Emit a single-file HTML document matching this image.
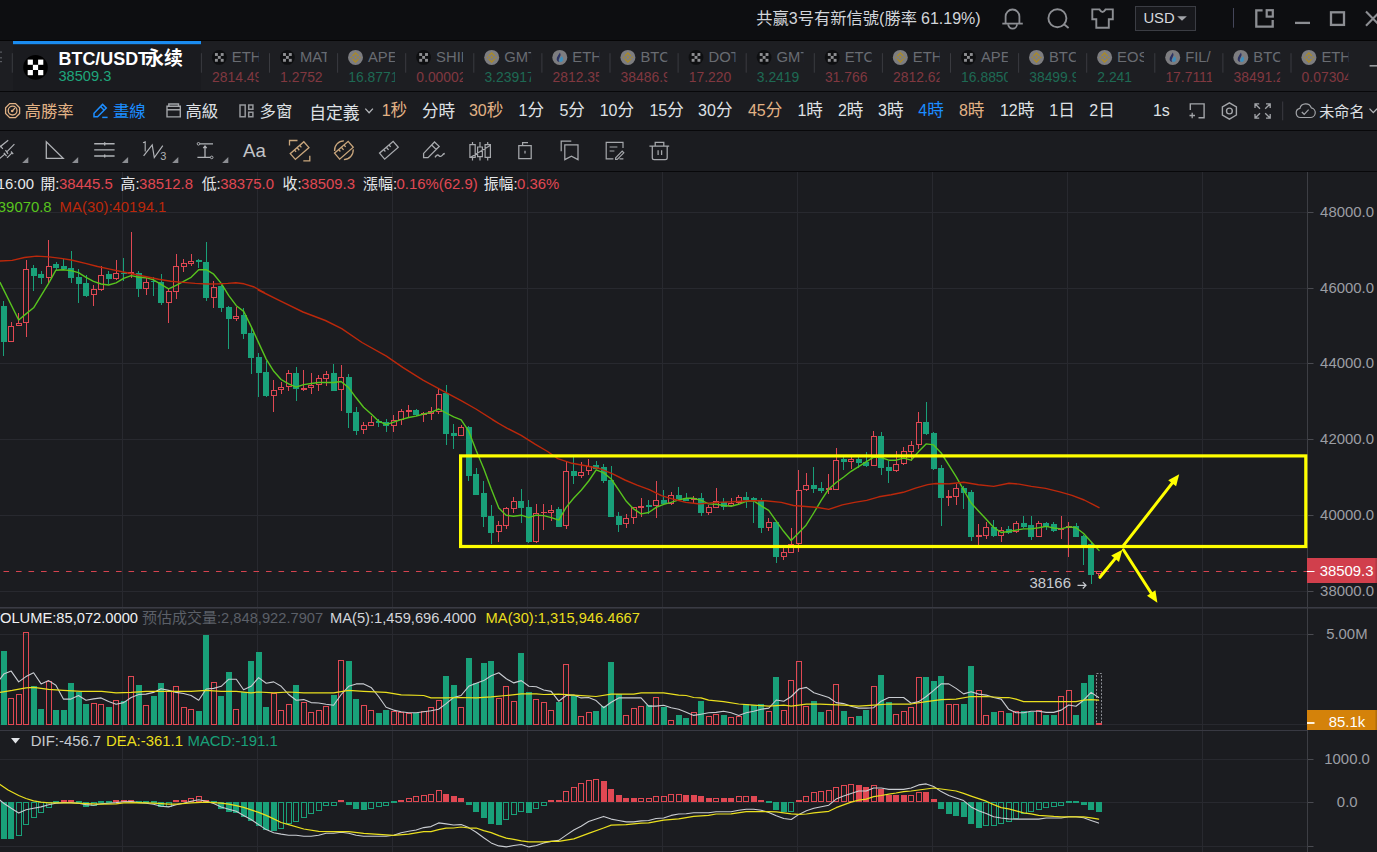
<!DOCTYPE html><html><head><meta charset="utf-8"><title>chart</title><style>html,body{margin:0;padding:0;background:#1b1c20;overflow:hidden}body{width:1377px;height:852px;font-family:'Liberation Sans', 'Noto Sans CJK SC', sans-serif}</style></head><body><svg width="1377" height="852" viewBox="0 0 1377 852" font-family="'Liberation Sans', 'Noto Sans CJK SC', sans-serif" style="display:block"><rect x="0.00" y="0.00" width="1377.00" height="852.00" fill="#1b1c20"/>
<rect x="0.00" y="0.00" width="1377.00" height="40.00" fill="#0d0e11"/>
<rect x="0.00" y="40.00" width="1377.00" height="51.00" fill="#1d1e22"/>
<rect x="13.00" y="41.00" width="188.00" height="50.00" fill="#1a1b1f"/>
<rect x="0.00" y="40.00" width="1377.00" height="1.00" fill="#050506"/>
<rect x="0.00" y="91.00" width="1377.00" height="1.00" fill="#08080a"/>
<rect x="0.00" y="130.00" width="1377.00" height="1.00" fill="#08080a"/>
<rect x="0.00" y="171.00" width="1377.00" height="1.00" fill="#08080a"/>
<text y="23.9" font-size="16" fill="#d2d5da"><tspan x="756.3" font-size="16.25">共赢</tspan><tspan x="788.8">3</tspan><tspan x="797.79" font-size="16.25">号有新信號</tspan><tspan x="879.04">(</tspan><tspan x="884.52" font-size="16.25">勝率</tspan><tspan x="920.99">61.19%)</tspan></text>
<path d="M1005.6 23.6V16.4a6.9 6.9 0 0 1 13.8 0V23.6" fill="none" stroke="#8c8e93" stroke-width="1.8" stroke-linejoin="miter"/>
<path d="M1002.3 23.6H1022.8" fill="none" stroke="#8c8e93" stroke-width="1.8" stroke-linejoin="miter"/>
<path d="M1008.2 24.2a4.4 4.4 0 0 0 8.8 0" fill="none" stroke="#8c8e93" stroke-width="1.8" stroke-linejoin="miter"/>
<circle cx="1057.4" cy="18.2" r="9" fill="none" stroke="#8c8e93" stroke-width="1.9"/>
<path d="M1064 24.2L1068.6 28" fill="none" stroke="#8c8e93" stroke-width="1.9" stroke-linejoin="miter"/>
<path d="M1092.3 9.4H1099.5Q1102.5 14.5 1105.5 9.4H1112.8V19.3H1108.8V27.7H1096.3V19.3H1092.3Z" fill="none" stroke="#8c8e93" stroke-width="1.9" stroke-linejoin="miter"/>
<rect x="1135.5" y="6.5" width="60" height="24" fill="#17181c" stroke="#3b3d44" stroke-width="1"/>
<text x="1143.4" y="22.9" font-size="14.8" fill="#d8dadf">USD</text>
<polygon points="1177.2,16.2 1186.9,16.2 1182,20.8" fill="#a2a4a9"/>
<line x1="1233.50" y1="8.00" x2="1233.50" y2="27.70" stroke="#44465a" stroke-width="1"/>
<path d="M1262.6 10.3H1256.3V26.7H1272.7V20" fill="none" stroke="#8c8e93" stroke-width="2.3" stroke-linejoin="miter"/>
<rect x="1266.7" y="10.2" width="6.1" height="6.4" fill="none" stroke="#8c8e93" stroke-width="2.2"/>
<line x1="1295.00" y1="22.90" x2="1310.00" y2="22.90" stroke="#8c8e93" stroke-width="2.3"/>
<rect x="1331" y="12.3" width="13" height="12.6" fill="none" stroke="#8c8e93" stroke-width="2.3"/>
<path d="M1366 11.5L1380 25.7M1366 25.7L1380 11.5" fill="none" stroke="#8c8e93" stroke-width="2.1" stroke-linejoin="miter"/>
<rect x="13.00" y="41.00" width="188.00" height="3.20" fill="#1a8cf0"/>
<line x1="12.30" y1="53.20" x2="12.30" y2="72.70" stroke="#3a3b40" stroke-width="1"/>
<rect x="0.00" y="51.50" width="2.00" height="1.20" fill="#5a5c62"/>
<rect x="0.00" y="57.20" width="2.00" height="1.20" fill="#5a5c62"/>
<rect x="0.00" y="61.00" width="2.00" height="1.20" fill="#5a5c62"/>
<circle cx="35.5" cy="67.4" r="12.3" fill="#000000"/>
<rect x="27.70" y="59.60" width="5.20" height="5.20" fill="#ffffff"/>
<rect x="38.10" y="59.60" width="5.20" height="5.20" fill="#ffffff"/>
<rect x="32.90" y="64.80" width="5.20" height="5.20" fill="#ffffff"/>
<rect x="27.70" y="70.00" width="5.20" height="5.20" fill="#ffffff"/>
<rect x="38.10" y="70.00" width="5.20" height="5.20" fill="#ffffff"/>
<text x="58.6" y="64.9" font-size="17.9" font-weight="bold" fill="#ffffff">BTC/USDT<tspan x="145.01" font-size="18.9">永续</tspan></text>
<text x="58.5" y="80.8" font-size="14.6" fill="#1fa67c">38509.3</text>
<defs><clipPath id="tc0"><rect x="201.4" y="44" width="57.3" height="47"/></clipPath><clipPath id="tc1"><rect x="269.5" y="44" width="57.3" height="47"/></clipPath><clipPath id="tc2"><rect x="337.6" y="44" width="57.3" height="47"/></clipPath><clipPath id="tc3"><rect x="405.7" y="44" width="57.3" height="47"/></clipPath><clipPath id="tc4"><rect x="473.8" y="44" width="57.3" height="47"/></clipPath><clipPath id="tc5"><rect x="541.9" y="44" width="57.3" height="47"/></clipPath><clipPath id="tc6"><rect x="610.0" y="44" width="57.3" height="47"/></clipPath><clipPath id="tc7"><rect x="678.1" y="44" width="57.3" height="47"/></clipPath><clipPath id="tc8"><rect x="746.2" y="44" width="57.3" height="47"/></clipPath><clipPath id="tc9"><rect x="814.3" y="44" width="57.3" height="47"/></clipPath><clipPath id="tc10"><rect x="882.4" y="44" width="57.3" height="47"/></clipPath><clipPath id="tc11"><rect x="950.5" y="44" width="57.3" height="47"/></clipPath><clipPath id="tc12"><rect x="1018.6" y="44" width="57.3" height="47"/></clipPath><clipPath id="tc13"><rect x="1086.7" y="44" width="57.3" height="47"/></clipPath><clipPath id="tc14"><rect x="1154.8" y="44" width="57.3" height="47"/></clipPath><clipPath id="tc15"><rect x="1222.9" y="44" width="57.3" height="47"/></clipPath><clipPath id="tc16"><rect x="1291.0" y="44" width="57.3" height="47"/></clipPath></defs>
<line x1="201.40" y1="53.20" x2="201.40" y2="72.70" stroke="#3a3b40" stroke-width="1"/>
<circle cx="219.3" cy="57.4" r="7.4" fill="#0e0f11"/>
<rect x="214.95" y="53.05" width="2.90" height="2.90" fill="#8e8f92"/>
<rect x="220.75" y="53.05" width="2.90" height="2.90" fill="#8e8f92"/>
<rect x="217.85" y="55.95" width="2.90" height="2.90" fill="#8e8f92"/>
<rect x="214.95" y="58.85" width="2.90" height="2.90" fill="#8e8f92"/>
<rect x="220.75" y="58.85" width="2.90" height="2.90" fill="#8e8f92"/>
<g clip-path="url(#tc0)">
<text x="231.8" y="62.1" font-size="14.8" fill="#696c72">ETH</text>
<text x="212.0" y="81.9" font-size="13.9" fill="#813840">2814.49</text>
</g>
<line x1="269.50" y1="53.20" x2="269.50" y2="72.70" stroke="#3a3b40" stroke-width="1"/>
<circle cx="287.4" cy="57.4" r="7.4" fill="#0e0f11"/>
<rect x="283.05" y="53.05" width="2.90" height="2.90" fill="#8e8f92"/>
<rect x="288.85" y="53.05" width="2.90" height="2.90" fill="#8e8f92"/>
<rect x="285.95" y="55.95" width="2.90" height="2.90" fill="#8e8f92"/>
<rect x="283.05" y="58.85" width="2.90" height="2.90" fill="#8e8f92"/>
<rect x="288.85" y="58.85" width="2.90" height="2.90" fill="#8e8f92"/>
<g clip-path="url(#tc1)">
<text x="299.9" y="62.1" font-size="14.8" fill="#696c72">MATI</text>
<text x="280.1" y="81.9" font-size="13.9" fill="#813840">1.2752</text>
</g>
<line x1="337.60" y1="53.20" x2="337.60" y2="72.70" stroke="#3a3b40" stroke-width="1"/>
<circle cx="355.5" cy="57.4" r="7.5" fill="#7d7d80"/>
<path d="M352.5 55.9l3 -3l3 3M352.5 58.9l3 3l3 -3" fill="none" stroke="#a98a2a" stroke-width="1.4"/>
<path d="M354.2 57.4l1.3 -1.3l1.3 1.3l-1.3 1.3zM350.2 57.4l1 -1l1 1l-1 1zM358.8 57.4l1 -1l1 1l-1 1z" fill="#a98a2a"/>
<g clip-path="url(#tc2)">
<text x="368.0" y="62.1" font-size="14.8" fill="#696c72">APE</text>
<text x="348.2" y="81.9" font-size="13.9" fill="#1e6a54">16.8771</text>
</g>
<line x1="405.70" y1="53.20" x2="405.70" y2="72.70" stroke="#3a3b40" stroke-width="1"/>
<circle cx="423.6" cy="57.4" r="7.4" fill="#0e0f11"/>
<rect x="419.25" y="53.05" width="2.90" height="2.90" fill="#8e8f92"/>
<rect x="425.05" y="53.05" width="2.90" height="2.90" fill="#8e8f92"/>
<rect x="422.15" y="55.95" width="2.90" height="2.90" fill="#8e8f92"/>
<rect x="419.25" y="58.85" width="2.90" height="2.90" fill="#8e8f92"/>
<rect x="425.05" y="58.85" width="2.90" height="2.90" fill="#8e8f92"/>
<g clip-path="url(#tc3)">
<text x="436.1" y="62.1" font-size="14.8" fill="#696c72">SHIB</text>
<text x="416.3" y="81.9" font-size="13.9" fill="#813840">0.00002</text>
</g>
<line x1="473.80" y1="53.20" x2="473.80" y2="72.70" stroke="#3a3b40" stroke-width="1"/>
<circle cx="491.7" cy="57.4" r="7.5" fill="#7d7d80"/>
<path d="M488.7 55.9l3 -3l3 3M488.7 58.9l3 3l3 -3" fill="none" stroke="#a98a2a" stroke-width="1.4"/>
<path d="M490.4 57.4l1.3 -1.3l1.3 1.3l-1.3 1.3zM486.4 57.4l1 -1l1 1l-1 1zM495.0 57.4l1 -1l1 1l-1 1z" fill="#a98a2a"/>
<g clip-path="url(#tc4)">
<text x="504.2" y="62.1" font-size="14.8" fill="#696c72">GMT</text>
<text x="484.4" y="81.9" font-size="13.9" fill="#1e6a54">3.23917</text>
</g>
<line x1="541.90" y1="53.20" x2="541.90" y2="72.70" stroke="#3a3b40" stroke-width="1"/>
<circle cx="559.8" cy="57.4" r="7.5" fill="#7d7d80"/>
<path d="M560.0 52.4q1.6 2.6 -0.4 5.2q-1.6 2.2 -0.2 4.4q-3.6 -1 -2.4 -4.6q1.2 -2.4 3 -5z" fill="#2b3263"/>
<path d="M561.8 56.2q2.4 2.6 0.6 5q-1.4 1.4 -3 0.4q-0.6 -2.4 2.4 -5.4z" fill="#3d8fbf"/>
<g clip-path="url(#tc5)">
<text x="572.3" y="62.1" font-size="14.8" fill="#696c72">ETH</text>
<text x="552.5" y="81.9" font-size="13.9" fill="#813840">2812.35</text>
</g>
<line x1="610.00" y1="53.20" x2="610.00" y2="72.70" stroke="#3a3b40" stroke-width="1"/>
<circle cx="627.9" cy="57.4" r="7.5" fill="#7d7d80"/>
<path d="M624.9 55.9l3 -3l3 3M624.9 58.9l3 3l3 -3" fill="none" stroke="#a98a2a" stroke-width="1.4"/>
<path d="M626.6 57.4l1.3 -1.3l1.3 1.3l-1.3 1.3zM622.6 57.4l1 -1l1 1l-1 1zM631.2 57.4l1 -1l1 1l-1 1z" fill="#a98a2a"/>
<g clip-path="url(#tc6)">
<text x="640.4" y="62.1" font-size="14.8" fill="#696c72">BTC</text>
<text x="620.6" y="81.9" font-size="13.9" fill="#813840">38486.9</text>
</g>
<line x1="678.10" y1="53.20" x2="678.10" y2="72.70" stroke="#3a3b40" stroke-width="1"/>
<circle cx="696.0" cy="57.4" r="7.4" fill="#0e0f11"/>
<rect x="691.65" y="53.05" width="2.90" height="2.90" fill="#8e8f92"/>
<rect x="697.45" y="53.05" width="2.90" height="2.90" fill="#8e8f92"/>
<rect x="694.55" y="55.95" width="2.90" height="2.90" fill="#8e8f92"/>
<rect x="691.65" y="58.85" width="2.90" height="2.90" fill="#8e8f92"/>
<rect x="697.45" y="58.85" width="2.90" height="2.90" fill="#8e8f92"/>
<g clip-path="url(#tc7)">
<text x="708.5" y="62.1" font-size="14.8" fill="#696c72">DOT</text>
<text x="688.7" y="81.9" font-size="13.9" fill="#813840">17.220</text>
</g>
<line x1="746.20" y1="53.20" x2="746.20" y2="72.70" stroke="#3a3b40" stroke-width="1"/>
<circle cx="764.1" cy="57.4" r="7.4" fill="#0e0f11"/>
<rect x="759.75" y="53.05" width="2.90" height="2.90" fill="#8e8f92"/>
<rect x="765.55" y="53.05" width="2.90" height="2.90" fill="#8e8f92"/>
<rect x="762.65" y="55.95" width="2.90" height="2.90" fill="#8e8f92"/>
<rect x="759.75" y="58.85" width="2.90" height="2.90" fill="#8e8f92"/>
<rect x="765.55" y="58.85" width="2.90" height="2.90" fill="#8e8f92"/>
<g clip-path="url(#tc8)">
<text x="776.6" y="62.1" font-size="14.8" fill="#696c72">GMT</text>
<text x="756.8" y="81.9" font-size="13.9" fill="#1e6a54">3.2419</text>
</g>
<line x1="814.30" y1="53.20" x2="814.30" y2="72.70" stroke="#3a3b40" stroke-width="1"/>
<circle cx="832.2" cy="57.4" r="7.4" fill="#0e0f11"/>
<rect x="827.85" y="53.05" width="2.90" height="2.90" fill="#8e8f92"/>
<rect x="833.65" y="53.05" width="2.90" height="2.90" fill="#8e8f92"/>
<rect x="830.75" y="55.95" width="2.90" height="2.90" fill="#8e8f92"/>
<rect x="827.85" y="58.85" width="2.90" height="2.90" fill="#8e8f92"/>
<rect x="833.65" y="58.85" width="2.90" height="2.90" fill="#8e8f92"/>
<g clip-path="url(#tc9)">
<text x="844.7" y="62.1" font-size="14.8" fill="#696c72">ETC</text>
<text x="824.9" y="81.9" font-size="13.9" fill="#813840">31.766</text>
</g>
<line x1="882.40" y1="53.20" x2="882.40" y2="72.70" stroke="#3a3b40" stroke-width="1"/>
<circle cx="900.3" cy="57.4" r="7.5" fill="#7d7d80"/>
<path d="M897.3 55.9l3 -3l3 3M897.3 58.9l3 3l3 -3" fill="none" stroke="#a98a2a" stroke-width="1.4"/>
<path d="M899.0 57.4l1.3 -1.3l1.3 1.3l-1.3 1.3zM895.0 57.4l1 -1l1 1l-1 1zM903.6 57.4l1 -1l1 1l-1 1z" fill="#a98a2a"/>
<g clip-path="url(#tc10)">
<text x="912.8" y="62.1" font-size="14.8" fill="#696c72">ETH</text>
<text x="893.0" y="81.9" font-size="13.9" fill="#813840">2812.62</text>
</g>
<line x1="950.50" y1="53.20" x2="950.50" y2="72.70" stroke="#3a3b40" stroke-width="1"/>
<circle cx="968.4" cy="57.4" r="7.4" fill="#0e0f11"/>
<rect x="964.05" y="53.05" width="2.90" height="2.90" fill="#8e8f92"/>
<rect x="969.85" y="53.05" width="2.90" height="2.90" fill="#8e8f92"/>
<rect x="966.95" y="55.95" width="2.90" height="2.90" fill="#8e8f92"/>
<rect x="964.05" y="58.85" width="2.90" height="2.90" fill="#8e8f92"/>
<rect x="969.85" y="58.85" width="2.90" height="2.90" fill="#8e8f92"/>
<g clip-path="url(#tc11)">
<text x="980.9" y="62.1" font-size="14.8" fill="#696c72">APE</text>
<text x="961.1" y="81.9" font-size="13.9" fill="#1e6a54">16.8850</text>
</g>
<line x1="1018.60" y1="53.20" x2="1018.60" y2="72.70" stroke="#3a3b40" stroke-width="1"/>
<circle cx="1036.5" cy="57.4" r="7.5" fill="#7d7d80"/>
<path d="M1033.5 55.9l3 -3l3 3M1033.5 58.9l3 3l3 -3" fill="none" stroke="#a98a2a" stroke-width="1.4"/>
<path d="M1035.2 57.4l1.3 -1.3l1.3 1.3l-1.3 1.3zM1031.2 57.4l1 -1l1 1l-1 1zM1039.8 57.4l1 -1l1 1l-1 1z" fill="#a98a2a"/>
<g clip-path="url(#tc12)">
<text x="1049.0" y="62.1" font-size="14.8" fill="#696c72">BTC</text>
<text x="1029.2" y="81.9" font-size="13.9" fill="#1e6a54">38499.9</text>
</g>
<line x1="1086.70" y1="53.20" x2="1086.70" y2="72.70" stroke="#3a3b40" stroke-width="1"/>
<circle cx="1104.6" cy="57.4" r="7.5" fill="#7d7d80"/>
<path d="M1101.6 55.9l3 -3l3 3M1101.6 58.9l3 3l3 -3" fill="none" stroke="#a98a2a" stroke-width="1.4"/>
<path d="M1103.3 57.4l1.3 -1.3l1.3 1.3l-1.3 1.3zM1099.3 57.4l1 -1l1 1l-1 1zM1107.9 57.4l1 -1l1 1l-1 1z" fill="#a98a2a"/>
<g clip-path="url(#tc13)">
<text x="1117.1" y="62.1" font-size="14.8" fill="#696c72">EOS</text>
<text x="1097.3" y="81.9" font-size="13.9" fill="#1e6a54">2.241</text>
</g>
<line x1="1154.80" y1="53.20" x2="1154.80" y2="72.70" stroke="#3a3b40" stroke-width="1"/>
<circle cx="1172.7" cy="57.4" r="7.5" fill="#7d7d80"/>
<path d="M1172.9 52.4q1.6 2.6 -0.4 5.2q-1.6 2.2 -0.2 4.4q-3.6 -1 -2.4 -4.6q1.2 -2.4 3 -5z" fill="#2b3263"/>
<path d="M1174.7 56.2q2.4 2.6 0.6 5q-1.4 1.4 -3 0.4q-0.6 -2.4 2.4 -5.4z" fill="#3d8fbf"/>
<g clip-path="url(#tc14)">
<text x="1185.2" y="62.1" font-size="14.8" fill="#696c72">FIL/</text>
<text x="1165.4" y="81.9" font-size="13.9" fill="#813840">17.7111</text>
</g>
<line x1="1222.90" y1="53.20" x2="1222.90" y2="72.70" stroke="#3a3b40" stroke-width="1"/>
<circle cx="1240.8" cy="57.4" r="7.5" fill="#7d7d80"/>
<path d="M1241.0 52.4q1.6 2.6 -0.4 5.2q-1.6 2.2 -0.2 4.4q-3.6 -1 -2.4 -4.6q1.2 -2.4 3 -5z" fill="#2b3263"/>
<path d="M1242.8 56.2q2.4 2.6 0.6 5q-1.4 1.4 -3 0.4q-0.6 -2.4 2.4 -5.4z" fill="#3d8fbf"/>
<g clip-path="url(#tc15)">
<text x="1253.3" y="62.1" font-size="14.8" fill="#696c72">BTC</text>
<text x="1233.5" y="81.9" font-size="13.9" fill="#813840">38491.2</text>
</g>
<line x1="1291.00" y1="53.20" x2="1291.00" y2="72.70" stroke="#3a3b40" stroke-width="1"/>
<circle cx="1308.9" cy="57.4" r="7.5" fill="#7d7d80"/>
<path d="M1305.9 55.9l3 -3l3 3M1305.9 58.9l3 3l3 -3" fill="none" stroke="#a98a2a" stroke-width="1.4"/>
<path d="M1307.6 57.4l1.3 -1.3l1.3 1.3l-1.3 1.3zM1303.6 57.4l1 -1l1 1l-1 1zM1312.2 57.4l1 -1l1 1l-1 1z" fill="#a98a2a"/>
<g clip-path="url(#tc16)">
<text x="1321.4" y="62.1" font-size="14.8" fill="#696c72">ETH</text>
<text x="1301.6" y="81.9" font-size="13.9" fill="#813840">0.07304</text>
</g>
<path d="M1369.6 65.8H1384" fill="none" stroke="#97999d" stroke-width="1.6" stroke-linejoin="miter"/>
<polygon points="19.6,113.5 15.5,117.6 9.7,117.6 5.6,113.5 5.6,107.7 9.7,103.6 15.5,103.6 19.6,107.7" fill="none" stroke="#e2b285" stroke-width="1.3"/>
<circle cx="12.6" cy="110.6" r="4.4" fill="none" stroke="#e2b285" stroke-width="1.3"/>
<circle cx="12.2" cy="111" r="1.3" fill="#e2b285"/>
<line x1="12.40" y1="110.80" x2="15.00" y2="108.00" stroke="#e2b285" stroke-width="1.2"/>
<text x="24.5" y="116.8" font-size="16.4" fill="#e2b285">高勝率</text>
<path d="M94 116.8V113.2L102.6 104.4L106.3 108.1L97.6 116.8ZM100.6 106.5L104.2 110.2" fill="none" stroke="#1c8dff" stroke-width="1.5" stroke-linejoin="miter"/>
<line x1="102.20" y1="117.40" x2="107.60" y2="117.40" stroke="#1c8dff" stroke-width="1.5"/>
<text x="112.9" y="116.8" font-size="16.4" fill="#1c8dff">畫線</text>
<path d="M167 106.3H180.3V116.9H167ZM167 109.7H180.3M168.8 106.3V104H178.5V106.3" fill="none" stroke="#a3a5a9" stroke-width="1.4" stroke-linejoin="miter"/>
<text x="185.4" y="116.8" font-size="16.4" fill="#dfe1e5">高級</text>
<path d="M240 104.9H245.2V116.8H240ZM248.7 104.9H252.9V109.3H248.7ZM248.7 112.3H252.9V116.8H248.7Z" fill="none" stroke="#96989c" stroke-width="1.5" stroke-linejoin="miter"/>
<text x="259.6" y="116.8" font-size="16.4" fill="#dfe1e5">多窗</text>
<text x="309.3" y="118.5" font-size="16.8" fill="#dfe1e5">自定義</text>
<path d="M365.3 108.6L369.1 112.8L372.9 108.6" fill="none" stroke="#b4b6ba" stroke-width="1.3" stroke-linejoin="miter"/>
<text x="381.7" y="116.4" font-size="16" fill="#e2b285">1<tspan font-size="16.6">秒</tspan></text>
<text x="422.0" y="116.8" font-size="16.6" fill="#dfe1e5">分時</text>
<text x="468.9" y="116.4" font-size="16" fill="#e2b285">30<tspan font-size="16.6">秒</tspan></text>
<text x="518.5" y="116.4" font-size="16" fill="#dfe1e5">1<tspan font-size="16.6">分</tspan></text>
<text x="559.4" y="116.4" font-size="16" fill="#dfe1e5">5<tspan font-size="16.6">分</tspan></text>
<text x="599.7" y="116.4" font-size="16" fill="#dfe1e5">10<tspan font-size="16.6">分</tspan></text>
<text x="649.4" y="116.4" font-size="16" fill="#dfe1e5">15<tspan font-size="16.6">分</tspan></text>
<text x="698.1" y="116.4" font-size="16" fill="#dfe1e5">30<tspan font-size="16.6">分</tspan></text>
<text x="747.9" y="116.4" font-size="16" fill="#e2b285">45<tspan font-size="16.6">分</tspan></text>
<text x="797.4" y="116.4" font-size="16" fill="#dfe1e5">1<tspan font-size="16.6">時</tspan></text>
<text x="837.9" y="116.4" font-size="16" fill="#dfe1e5">2<tspan font-size="16.6">時</tspan></text>
<text x="878.1" y="116.4" font-size="16" fill="#dfe1e5">3<tspan font-size="16.6">時</tspan></text>
<text x="918.3" y="116.4" font-size="16" fill="#1c8dff">4<tspan font-size="16.6">時</tspan></text>
<text x="958.9" y="116.4" font-size="16" fill="#e2b285">8<tspan font-size="16.6">時</tspan></text>
<text x="999.9" y="116.4" font-size="16" fill="#dfe1e5">12<tspan font-size="16.6">時</tspan></text>
<text x="1049.3" y="116.4" font-size="16" fill="#dfe1e5">1<tspan font-size="16.6">日</tspan></text>
<text x="1089.3" y="116.4" font-size="16" fill="#dfe1e5">2<tspan font-size="16.6">日</tspan></text>
<text x="1152.9" y="116.4" font-size="16" fill="#dfe1e5">1s</text>
<path d="M1190.3 110V103.9H1204.1V117.7H1198.5" fill="none" stroke="#a3a5a9" stroke-width="1.4" stroke-linejoin="miter"/>
<path d="M1189.5 115.5H1195M1192.2 112.8V118.2" fill="none" stroke="#a3a5a9" stroke-width="1.3" stroke-linejoin="miter"/>
<polygon points="1236.4,115.0 1229.4,119.1 1222.4,115.0 1222.4,107.0 1229.4,102.9 1236.4,107.0" fill="none" stroke="#a3a5a9" stroke-width="1.4"/>
<circle cx="1229.4" cy="111" r="2.9" fill="none" stroke="#a3a5a9" stroke-width="1.4"/>
<path d="M1255 108V103.8H1259.2M1266 103.8H1270.2V108M1270.2 114V118.2H1266M1259.2 118.2H1255V114M1255.4 104.2L1260 108.8M1269.8 104.2L1265.2 108.8M1269.8 117.8L1265.2 113.2M1255.4 117.8L1260 113.2" fill="none" stroke="#a3a5a9" stroke-width="1.3" stroke-linejoin="miter"/>
<line x1="1282.70" y1="101.50" x2="1282.70" y2="120.30" stroke="#3a3b40" stroke-width="1"/>
<path d="M1300.5 117.5a4.6 4.6 0 0 1 -0.6 -9.1a6 6 0 0 1 11.4 -0.6a4.9 4.9 0 0 1 -1.2 9.7Z M1301.8 112l2.4 2.3l4.4 -4.6" fill="none" stroke="#a3a5a9" stroke-width="1.2" stroke-linejoin="miter"/>
<text x="1319.2" y="116.5" font-size="15.1" fill="#dfe1e5">未命名</text>
<path d="M1369.5 108.6L1373.3 112.6L1377.1 108.6" fill="none" stroke="#b4b6ba" stroke-width="1.3" stroke-linejoin="miter"/>
<path d="M-2 148.5L8.2 140.3M6.3 152.3L14.4 144.2M-2 160L5.4 153.6M7 157.8L12 152.8M5.5 150.2L8 153.8M0.2 145.5L2.8 148.8M3.8 152.8L6.6 156.2M11 151.5L13.2 154.2" fill="none" stroke="#b0b2b6" stroke-width="1.2" stroke-linejoin="miter"/>
<polygon points="22.1,162.9 28.3,162.9 28.3,156.9" fill="#8b8d92"/>
<path d="M46.3 141.8V158.4H63.2Z" fill="none" stroke="#b0b2b6" stroke-width="1.3" stroke-linejoin="miter"/>
<polygon points="72.0,162.9 78.2,162.9 78.2,156.9" fill="#8b8d92"/>
<path d="M94.2 143.8H114.6M94.2 149.9H114.6M94.2 156H114.6M104.7 142.2V145.4M104.7 154.4V157.6" fill="none" stroke="#b0b2b6" stroke-width="1.4" stroke-linejoin="miter"/>
<polygon points="121.9,162.9 128.1,162.9 128.1,156.9" fill="#8b8d92"/>
<path d="M143.6 155.9L152.2 145L154.3 157.5L162.8 145.7" fill="none" stroke="#b0b2b6" stroke-width="1.2" stroke-linejoin="miter"/>
<path d="M143 142.7L145.2 141.9V151.5" fill="none" stroke="#b0b2b6" stroke-width="1.1" stroke-linejoin="miter"/>
<text x="160.2" y="159.5" font-size="11" fill="#b0b2b6">3</text>
<polygon points="172.1,162.9 178.3,162.9 178.3,156.9" fill="#8b8d92"/>
<path d="M199.5 143.8H213M197.4 157.4H210.6M205 146.5V156.8M203.3 148.2L205 146L206.7 148.2" fill="none" stroke="#b0b2b6" stroke-width="1.3" stroke-linejoin="miter"/>
<circle cx="198.5" cy="143.8" r="1.3" fill="#1b1c20" stroke="#b0b2b6" stroke-width="1"/>
<circle cx="211.7" cy="157.4" r="1.3" fill="#1b1c20" stroke="#b0b2b6" stroke-width="1"/>
<polygon points="222.1,162.9 228.3,162.9 228.3,156.9" fill="#8b8d92"/>
<text x="243.0" y="157.1" font-size="18.6" fill="#c2c4c8">Aa</text>
<g transform="translate(299.6 150.6) rotate(-41)" fill="none" stroke="#c9a67c" stroke-width="1.3"><rect x="-9.0" y="-3.9" width="18.0" height="7.8"/><path d="M-3.5 -3.9v2.6M0 -3.9v3.4M3.5 -3.9v2.6"/></g>
<path d="M289.5 145.5V140.5H297.5M309.8 155.8V160.8H303.3" fill="none" stroke="#c9a67c" stroke-width="1.3" stroke-linejoin="miter"/>
<g transform="translate(343.9 150.2) rotate(-41)" fill="none" stroke="#c9a67c" stroke-width="1.3"><rect x="-9.0" y="-3.9" width="18.0" height="7.8"/><path d="M-3.5 -3.9v2.6M0 -3.9v3.4M3.5 -3.9v2.6"/></g>
<path d="M334.6 151a9.4 9.4 0 0 1 9.3 -10.2M353.2 149.4a9.4 9.4 0 0 1 -9.3 10.2" fill="none" stroke="#c9a67c" stroke-width="1.3" stroke-linejoin="miter"/>
<g transform="translate(388.9 150.2) rotate(-41)" fill="none" stroke="#a8aaae" stroke-width="1.3"><rect x="-9.0" y="-3.9" width="18.0" height="7.8"/><path d="M-3.5 -3.9v2.6M0 -3.9v3.4M3.5 -3.9v2.6"/></g>
<path d="M423.6 157.6V153.4L434.5 142L439.2 146.4L428 157.6ZM431.6 145L436.2 149.4M435 157.3q2.2 -3.6 4 -1.6q1.6 1.8 3.4 -0.6q1 -1.4 2.4 -1.6" fill="none" stroke="#a8aaae" stroke-width="1.3" stroke-linejoin="miter"/>
<path d="M469.9 144.6H475.2V157.4H469.9ZM477.6 147H482.4V156.6H477.6ZM485.1 144.6H490.4V157.4H485.1ZM472.5 141.9V144.6M472.5 157.4V160.6M480 141.9V147M480 156.6V160.6M487.7 141.9V144.6M487.7 157.4V160.6M470.2 157.6L490.6 145.2" fill="none" stroke="#a6a8ac" stroke-width="1.2" stroke-linejoin="miter"/>
<path d="M518.8 145.6H531.2V158.6H518.8ZM522.6 145.6V142.6H528M525 150.8V153.6" fill="none" stroke="#a6a8ac" stroke-width="1.25" stroke-linejoin="miter"/>
<path d="M561.2 151.2V141H571.3M564.8 144.8H578V159.6L571.4 156.2L564.8 159.6Z" fill="none" stroke="#a6a8ac" stroke-width="1.25" stroke-linejoin="miter"/>
<path d="M623 148V142.4H606.2V158.8H613.4M609.6 147H617.4M609.6 151H614.4M615.6 157.8L622.2 151.2L623.8 152.8L617.2 159.4H615.6ZM619.5 158.9H623.4" fill="none" stroke="#a6a8ac" stroke-width="1.2" stroke-linejoin="miter"/>
<path d="M649.4 146H669.2M655.2 146V142.3H663.8V146M652.3 146V157.8Q652.3 159.7 654.2 159.7H665.2Q667.2 159.7 667.2 157.8V146M658.1 150.2V155M661.6 150.2V155" fill="none" stroke="#a6a8ac" stroke-width="1.25" stroke-linejoin="miter"/>
<line x1="122.50" y1="172.00" x2="122.50" y2="852.00" stroke="#28292f" stroke-width="1"/>
<line x1="257.50" y1="172.00" x2="257.50" y2="852.00" stroke="#28292f" stroke-width="1"/>
<line x1="392.50" y1="172.00" x2="392.50" y2="852.00" stroke="#28292f" stroke-width="1"/>
<line x1="527.50" y1="172.00" x2="527.50" y2="852.00" stroke="#28292f" stroke-width="1"/>
<line x1="662.50" y1="172.00" x2="662.50" y2="852.00" stroke="#28292f" stroke-width="1"/>
<line x1="797.50" y1="172.00" x2="797.50" y2="852.00" stroke="#28292f" stroke-width="1"/>
<line x1="932.50" y1="172.00" x2="932.50" y2="852.00" stroke="#28292f" stroke-width="1"/>
<line x1="1067.50" y1="172.00" x2="1067.50" y2="852.00" stroke="#28292f" stroke-width="1"/>
<line x1="1202.50" y1="172.00" x2="1202.50" y2="852.00" stroke="#28292f" stroke-width="1"/>
<line x1="0.00" y1="212.50" x2="1307.50" y2="212.50" stroke="#28292f" stroke-width="1"/>
<line x1="1307.50" y1="212.50" x2="1313.50" y2="212.50" stroke="#4a4b51" stroke-width="1"/>
<line x1="0.00" y1="288.50" x2="1307.50" y2="288.50" stroke="#28292f" stroke-width="1"/>
<line x1="1307.50" y1="288.50" x2="1313.50" y2="288.50" stroke="#4a4b51" stroke-width="1"/>
<line x1="0.00" y1="363.50" x2="1307.50" y2="363.50" stroke="#28292f" stroke-width="1"/>
<line x1="1307.50" y1="363.50" x2="1313.50" y2="363.50" stroke="#4a4b51" stroke-width="1"/>
<line x1="0.00" y1="439.50" x2="1307.50" y2="439.50" stroke="#28292f" stroke-width="1"/>
<line x1="1307.50" y1="439.50" x2="1313.50" y2="439.50" stroke="#4a4b51" stroke-width="1"/>
<line x1="0.00" y1="515.50" x2="1307.50" y2="515.50" stroke="#28292f" stroke-width="1"/>
<line x1="1307.50" y1="515.50" x2="1313.50" y2="515.50" stroke="#4a4b51" stroke-width="1"/>
<line x1="0.00" y1="591.50" x2="1307.50" y2="591.50" stroke="#28292f" stroke-width="1"/>
<line x1="1307.50" y1="591.50" x2="1313.50" y2="591.50" stroke="#4a4b51" stroke-width="1"/>
<line x1="0.00" y1="634.50" x2="1307.50" y2="634.50" stroke="#28292f" stroke-width="1"/>
<line x1="1307.50" y1="634.50" x2="1313.50" y2="634.50" stroke="#4a4b51" stroke-width="1"/>
<line x1="0.00" y1="724.50" x2="1307.50" y2="724.50" stroke="#28292f" stroke-width="1"/>
<line x1="0.00" y1="759.50" x2="1307.50" y2="759.50" stroke="#28292f" stroke-width="1"/>
<line x1="1307.50" y1="759.50" x2="1313.50" y2="759.50" stroke="#4a4b51" stroke-width="1"/>
<line x1="0.00" y1="802.50" x2="1307.50" y2="802.50" stroke="#28292f" stroke-width="1"/>
<line x1="1307.50" y1="802.50" x2="1313.50" y2="802.50" stroke="#4a4b51" stroke-width="1"/>
<line x1="0.00" y1="846.50" x2="1307.50" y2="846.50" stroke="#28292f" stroke-width="1"/>
<line x1="1307.50" y1="846.50" x2="1313.50" y2="846.50" stroke="#4a4b51" stroke-width="1"/>
<rect x="0.00" y="607.00" width="1377.00" height="1.00" fill="#3a3b44"/>
<rect x="0.00" y="608.00" width="1377.00" height="1.00" fill="#2d2e34"/>
<rect x="0.00" y="730.00" width="1307.50" height="1.00" fill="#383942"/>
<line x1="1307.50" y1="172.00" x2="1307.50" y2="852.00" stroke="#3d3e44" stroke-width="1"/>
<text x="1320.11" y="217.1" font-size="14.9" fill="#9b9ea4">48000.0</text>
<text x="1320.11" y="293.1" font-size="14.9" fill="#9b9ea4">46000.0</text>
<text x="1320.11" y="368.1" font-size="14.9" fill="#9b9ea4">44000.0</text>
<text x="1320.11" y="444.1" font-size="14.9" fill="#9b9ea4">42000.0</text>
<text x="1320.11" y="520.1" font-size="14.9" fill="#9b9ea4">40000.0</text>
<text x="1320.11" y="596.1" font-size="14.9" fill="#9b9ea4">38000.0</text>
<text x="1326.17" y="638.8" font-size="14.9" fill="#9b9ea4">5.00M</text>
<text x="1324.3" y="763.8" font-size="14.9" fill="#9b9ea4">1000.0</text>
<text x="1336.86" y="807.2" font-size="14.9" fill="#9b9ea4">0.0</text>
<line x1="3.50" y1="571.50" x2="1307.50" y2="571.50" stroke="#d5434f" stroke-width="1" stroke-dasharray="5.6 6.9"/>
<rect x="3.00" y="301.00" width="1.00" height="55.00" fill="#19a079"/>
<rect x="1.00" y="306.00" width="6.00" height="36.00" fill="#19a079"/>
<rect x="11.00" y="322.00" width="1.00" height="4.00" fill="#e04853"/>
<rect x="8.5" y="326.5" width="5" height="15.0" fill="none" stroke="#e04853" stroke-width="1"/>
<rect x="18.00" y="313.00" width="1.00" height="10.00" fill="#e04853"/>
<rect x="16.5" y="323.5" width="5" height="2.0" fill="none" stroke="#e04853" stroke-width="1"/>
<rect x="26.00" y="260.00" width="1.00" height="9.00" fill="#e04853"/>
<rect x="26.00" y="323.00" width="1.00" height="14.00" fill="#e04853"/>
<rect x="23.5" y="269.5" width="5" height="53.0" fill="none" stroke="#e04853" stroke-width="1"/>
<rect x="33.00" y="265.00" width="1.00" height="26.00" fill="#19a079"/>
<rect x="31.00" y="268.00" width="6.00" height="8.00" fill="#19a079"/>
<rect x="41.00" y="271.00" width="1.00" height="13.00" fill="#19a079"/>
<rect x="38.00" y="274.00" width="6.00" height="4.00" fill="#19a079"/>
<rect x="48.00" y="240.00" width="1.00" height="26.00" fill="#e04853"/>
<rect x="48.00" y="278.00" width="1.00" height="5.00" fill="#e04853"/>
<rect x="46.5" y="266.5" width="5" height="11.0" fill="none" stroke="#e04853" stroke-width="1"/>
<rect x="56.00" y="262.00" width="1.00" height="8.00" fill="#19a079"/>
<rect x="53.00" y="264.00" width="6.00" height="4.00" fill="#19a079"/>
<rect x="63.00" y="259.00" width="1.00" height="11.00" fill="#19a079"/>
<rect x="61.00" y="266.00" width="6.00" height="3.00" fill="#19a079"/>
<rect x="71.00" y="251.00" width="1.00" height="32.00" fill="#19a079"/>
<rect x="68.00" y="268.00" width="6.00" height="10.00" fill="#19a079"/>
<rect x="78.00" y="269.00" width="1.00" height="34.00" fill="#19a079"/>
<rect x="76.00" y="277.00" width="6.00" height="7.00" fill="#19a079"/>
<rect x="86.00" y="275.00" width="1.00" height="22.00" fill="#19a079"/>
<rect x="83.00" y="283.00" width="6.00" height="13.00" fill="#19a079"/>
<rect x="93.00" y="285.00" width="1.00" height="4.00" fill="#e04853"/>
<rect x="93.00" y="295.00" width="1.00" height="11.00" fill="#e04853"/>
<rect x="91.5" y="289.5" width="5" height="5.0" fill="none" stroke="#e04853" stroke-width="1"/>
<rect x="101.00" y="266.00" width="1.00" height="9.00" fill="#e04853"/>
<rect x="101.00" y="290.00" width="1.00" height="1.00" fill="#e04853"/>
<rect x="98.5" y="275.5" width="5" height="14.0" fill="none" stroke="#e04853" stroke-width="1"/>
<rect x="108.00" y="271.00" width="1.00" height="13.00" fill="#19a079"/>
<rect x="106.00" y="274.00" width="6.00" height="5.00" fill="#19a079"/>
<rect x="116.00" y="260.00" width="1.00" height="13.00" fill="#e04853"/>
<rect x="116.00" y="279.00" width="1.00" height="1.00" fill="#e04853"/>
<rect x="113.5" y="273.5" width="5" height="5.0" fill="none" stroke="#e04853" stroke-width="1"/>
<rect x="123.00" y="258.00" width="1.00" height="23.00" fill="#19a079"/>
<rect x="121.00" y="273.00" width="6.00" height="1.00" fill="#19a079"/>
<rect x="131.00" y="232.00" width="1.00" height="40.00" fill="#e04853"/>
<rect x="131.00" y="274.00" width="1.00" height="4.00" fill="#e04853"/>
<rect x="128.00" y="272.00" width="6.00" height="2.00" fill="#e04853"/>
<rect x="138.00" y="271.00" width="1.00" height="26.00" fill="#19a079"/>
<rect x="136.00" y="273.00" width="6.00" height="16.00" fill="#19a079"/>
<rect x="146.00" y="278.00" width="1.00" height="4.00" fill="#e04853"/>
<rect x="146.00" y="289.00" width="1.00" height="6.00" fill="#e04853"/>
<rect x="143.5" y="282.5" width="5" height="6.0" fill="none" stroke="#e04853" stroke-width="1"/>
<rect x="153.00" y="277.00" width="1.00" height="19.00" fill="#19a079"/>
<rect x="151.00" y="281.00" width="6.00" height="1.00" fill="#19a079"/>
<rect x="161.00" y="274.00" width="1.00" height="31.00" fill="#19a079"/>
<rect x="158.00" y="282.00" width="6.00" height="21.00" fill="#19a079"/>
<rect x="168.00" y="288.00" width="1.00" height="3.00" fill="#e04853"/>
<rect x="168.00" y="303.00" width="1.00" height="20.00" fill="#e04853"/>
<rect x="166.5" y="291.5" width="5" height="11.0" fill="none" stroke="#e04853" stroke-width="1"/>
<rect x="176.00" y="254.00" width="1.00" height="12.00" fill="#e04853"/>
<rect x="176.00" y="292.00" width="1.00" height="7.00" fill="#e04853"/>
<rect x="173.5" y="266.5" width="5" height="25.0" fill="none" stroke="#e04853" stroke-width="1"/>
<rect x="183.00" y="259.00" width="1.00" height="4.00" fill="#e04853"/>
<rect x="183.00" y="267.00" width="1.00" height="5.00" fill="#e04853"/>
<rect x="181.5" y="263.5" width="5" height="3.0" fill="none" stroke="#e04853" stroke-width="1"/>
<rect x="191.00" y="254.00" width="1.00" height="7.00" fill="#e04853"/>
<rect x="191.00" y="264.00" width="1.00" height="2.00" fill="#e04853"/>
<rect x="188.5" y="261.5" width="5" height="2.0" fill="none" stroke="#e04853" stroke-width="1"/>
<rect x="198.00" y="259.00" width="1.00" height="9.00" fill="#19a079"/>
<rect x="196.00" y="260.00" width="6.00" height="2.00" fill="#19a079"/>
<rect x="206.00" y="242.00" width="1.00" height="59.00" fill="#19a079"/>
<rect x="203.00" y="262.00" width="6.00" height="36.00" fill="#19a079"/>
<rect x="213.00" y="281.00" width="1.00" height="6.00" fill="#e04853"/>
<rect x="213.00" y="298.00" width="1.00" height="10.00" fill="#e04853"/>
<rect x="211.5" y="287.5" width="5" height="10.0" fill="none" stroke="#e04853" stroke-width="1"/>
<rect x="221.00" y="285.00" width="1.00" height="27.00" fill="#19a079"/>
<rect x="218.00" y="286.00" width="6.00" height="22.00" fill="#19a079"/>
<rect x="228.00" y="306.00" width="1.00" height="43.00" fill="#19a079"/>
<rect x="226.00" y="307.00" width="6.00" height="12.00" fill="#19a079"/>
<rect x="236.00" y="307.00" width="1.00" height="9.00" fill="#e04853"/>
<rect x="236.00" y="319.00" width="1.00" height="2.00" fill="#e04853"/>
<rect x="233.5" y="316.5" width="5" height="2.0" fill="none" stroke="#e04853" stroke-width="1"/>
<rect x="243.00" y="308.00" width="1.00" height="31.00" fill="#19a079"/>
<rect x="241.00" y="315.00" width="6.00" height="19.00" fill="#19a079"/>
<rect x="251.00" y="328.00" width="1.00" height="46.00" fill="#19a079"/>
<rect x="248.00" y="333.00" width="6.00" height="25.00" fill="#19a079"/>
<rect x="258.00" y="353.00" width="1.00" height="44.00" fill="#19a079"/>
<rect x="256.00" y="357.00" width="6.00" height="16.00" fill="#19a079"/>
<rect x="266.00" y="361.00" width="1.00" height="36.00" fill="#19a079"/>
<rect x="263.00" y="372.00" width="6.00" height="24.00" fill="#19a079"/>
<rect x="273.00" y="380.00" width="1.00" height="10.00" fill="#e04853"/>
<rect x="273.00" y="396.00" width="1.00" height="16.00" fill="#e04853"/>
<rect x="271.5" y="390.5" width="5" height="5.0" fill="none" stroke="#e04853" stroke-width="1"/>
<rect x="281.00" y="382.00" width="1.00" height="5.00" fill="#e04853"/>
<rect x="281.00" y="390.00" width="1.00" height="4.00" fill="#e04853"/>
<rect x="278.5" y="387.5" width="5" height="2.0" fill="none" stroke="#e04853" stroke-width="1"/>
<rect x="288.00" y="370.00" width="1.00" height="3.00" fill="#e04853"/>
<rect x="288.00" y="387.00" width="1.00" height="4.00" fill="#e04853"/>
<rect x="286.5" y="373.5" width="5" height="13.0" fill="none" stroke="#e04853" stroke-width="1"/>
<rect x="296.00" y="367.00" width="1.00" height="34.00" fill="#19a079"/>
<rect x="293.00" y="373.00" width="6.00" height="16.00" fill="#19a079"/>
<rect x="303.00" y="370.00" width="1.00" height="18.00" fill="#e04853"/>
<rect x="303.00" y="390.00" width="1.00" height="1.00" fill="#e04853"/>
<rect x="301.00" y="388.00" width="6.00" height="2.00" fill="#e04853"/>
<rect x="311.00" y="373.00" width="1.00" height="12.00" fill="#e04853"/>
<rect x="311.00" y="388.00" width="1.00" height="6.00" fill="#e04853"/>
<rect x="308.5" y="385.5" width="5" height="2.0" fill="none" stroke="#e04853" stroke-width="1"/>
<rect x="318.00" y="375.00" width="1.00" height="3.00" fill="#e04853"/>
<rect x="318.00" y="385.00" width="1.00" height="6.00" fill="#e04853"/>
<rect x="316.5" y="378.5" width="5" height="6.0" fill="none" stroke="#e04853" stroke-width="1"/>
<rect x="326.00" y="371.00" width="1.00" height="3.00" fill="#e04853"/>
<rect x="326.00" y="379.00" width="1.00" height="7.00" fill="#e04853"/>
<rect x="323.5" y="374.5" width="5" height="4.0" fill="none" stroke="#e04853" stroke-width="1"/>
<rect x="333.00" y="364.00" width="1.00" height="27.00" fill="#19a079"/>
<rect x="331.00" y="373.00" width="6.00" height="18.00" fill="#19a079"/>
<rect x="341.00" y="365.00" width="1.00" height="12.00" fill="#e04853"/>
<rect x="341.00" y="390.00" width="1.00" height="21.00" fill="#e04853"/>
<rect x="338.5" y="377.5" width="5" height="12.0" fill="none" stroke="#e04853" stroke-width="1"/>
<rect x="348.00" y="374.00" width="1.00" height="54.00" fill="#19a079"/>
<rect x="346.00" y="377.00" width="6.00" height="36.00" fill="#19a079"/>
<rect x="356.00" y="407.00" width="1.00" height="28.00" fill="#19a079"/>
<rect x="353.00" y="412.00" width="6.00" height="19.00" fill="#19a079"/>
<rect x="363.00" y="422.00" width="1.00" height="3.00" fill="#e04853"/>
<rect x="363.00" y="430.00" width="1.00" height="4.00" fill="#e04853"/>
<rect x="361.5" y="425.5" width="5" height="4.0" fill="none" stroke="#e04853" stroke-width="1"/>
<rect x="371.00" y="416.00" width="1.00" height="6.00" fill="#e04853"/>
<rect x="368.5" y="422.5" width="5" height="3.0" fill="none" stroke="#e04853" stroke-width="1"/>
<rect x="378.00" y="419.00" width="1.00" height="8.00" fill="#19a079"/>
<rect x="376.00" y="421.00" width="6.00" height="2.00" fill="#19a079"/>
<rect x="386.00" y="419.00" width="1.00" height="13.00" fill="#19a079"/>
<rect x="383.00" y="422.00" width="6.00" height="4.00" fill="#19a079"/>
<rect x="393.00" y="415.00" width="1.00" height="5.00" fill="#e04853"/>
<rect x="393.00" y="426.00" width="1.00" height="6.00" fill="#e04853"/>
<rect x="391.5" y="420.5" width="5" height="5.0" fill="none" stroke="#e04853" stroke-width="1"/>
<rect x="401.00" y="409.00" width="1.00" height="2.00" fill="#e04853"/>
<rect x="401.00" y="420.00" width="1.00" height="5.00" fill="#e04853"/>
<rect x="398.5" y="411.5" width="5" height="8.0" fill="none" stroke="#e04853" stroke-width="1"/>
<rect x="408.00" y="405.00" width="1.00" height="5.00" fill="#e04853"/>
<rect x="408.00" y="412.00" width="1.00" height="5.00" fill="#e04853"/>
<rect x="406.00" y="410.00" width="6.00" height="2.00" fill="#e04853"/>
<rect x="416.00" y="409.00" width="1.00" height="7.00" fill="#19a079"/>
<rect x="413.00" y="410.00" width="6.00" height="5.00" fill="#19a079"/>
<rect x="423.00" y="412.00" width="1.00" height="1.00" fill="#e04853"/>
<rect x="423.00" y="415.00" width="1.00" height="7.00" fill="#e04853"/>
<rect x="421.00" y="413.00" width="6.00" height="2.00" fill="#e04853"/>
<rect x="431.00" y="407.00" width="1.00" height="4.00" fill="#e04853"/>
<rect x="431.00" y="414.00" width="1.00" height="6.00" fill="#e04853"/>
<rect x="428.5" y="411.5" width="5" height="2.0" fill="none" stroke="#e04853" stroke-width="1"/>
<rect x="438.00" y="389.00" width="1.00" height="5.00" fill="#e04853"/>
<rect x="438.00" y="412.00" width="1.00" height="2.00" fill="#e04853"/>
<rect x="436.5" y="394.5" width="5" height="17.0" fill="none" stroke="#e04853" stroke-width="1"/>
<rect x="446.00" y="385.00" width="1.00" height="60.00" fill="#19a079"/>
<rect x="443.00" y="393.00" width="6.00" height="41.00" fill="#19a079"/>
<rect x="453.00" y="424.00" width="1.00" height="25.00" fill="#19a079"/>
<rect x="451.00" y="433.00" width="6.00" height="3.00" fill="#19a079"/>
<rect x="461.00" y="425.00" width="1.00" height="2.00" fill="#e04853"/>
<rect x="458.5" y="427.5" width="5" height="8.0" fill="none" stroke="#e04853" stroke-width="1"/>
<rect x="468.00" y="426.00" width="1.00" height="55.00" fill="#19a079"/>
<rect x="466.00" y="427.00" width="6.00" height="49.00" fill="#19a079"/>
<rect x="476.00" y="468.00" width="1.00" height="27.00" fill="#19a079"/>
<rect x="473.00" y="474.00" width="6.00" height="21.00" fill="#19a079"/>
<rect x="483.00" y="481.00" width="1.00" height="46.00" fill="#19a079"/>
<rect x="481.00" y="493.00" width="6.00" height="24.00" fill="#19a079"/>
<rect x="491.00" y="505.00" width="1.00" height="39.00" fill="#19a079"/>
<rect x="488.00" y="516.00" width="6.00" height="17.00" fill="#19a079"/>
<rect x="498.00" y="521.00" width="1.00" height="4.00" fill="#e04853"/>
<rect x="498.00" y="532.00" width="1.00" height="10.00" fill="#e04853"/>
<rect x="496.5" y="525.5" width="5" height="6.0" fill="none" stroke="#e04853" stroke-width="1"/>
<rect x="506.00" y="507.00" width="1.00" height="1.00" fill="#e04853"/>
<rect x="506.00" y="526.00" width="1.00" height="3.00" fill="#e04853"/>
<rect x="503.5" y="508.5" width="5" height="17.0" fill="none" stroke="#e04853" stroke-width="1"/>
<rect x="513.00" y="497.00" width="1.00" height="4.00" fill="#e04853"/>
<rect x="513.00" y="509.00" width="1.00" height="4.00" fill="#e04853"/>
<rect x="511.5" y="501.5" width="5" height="7.0" fill="none" stroke="#e04853" stroke-width="1"/>
<rect x="521.00" y="489.00" width="1.00" height="34.00" fill="#19a079"/>
<rect x="518.00" y="501.00" width="6.00" height="7.00" fill="#19a079"/>
<rect x="528.00" y="500.00" width="1.00" height="43.00" fill="#19a079"/>
<rect x="526.00" y="507.00" width="6.00" height="35.00" fill="#19a079"/>
<rect x="536.00" y="504.00" width="1.00" height="9.00" fill="#e04853"/>
<rect x="536.00" y="542.00" width="1.00" height="1.00" fill="#e04853"/>
<rect x="533.5" y="513.5" width="5" height="28.0" fill="none" stroke="#e04853" stroke-width="1"/>
<rect x="543.00" y="504.00" width="1.00" height="8.00" fill="#e04853"/>
<rect x="543.00" y="513.00" width="1.00" height="17.00" fill="#e04853"/>
<rect x="541.00" y="512.00" width="6.00" height="1.00" fill="#e04853"/>
<rect x="551.00" y="505.00" width="1.00" height="5.00" fill="#e04853"/>
<rect x="551.00" y="513.00" width="1.00" height="8.00" fill="#e04853"/>
<rect x="548.5" y="510.5" width="5" height="2.0" fill="none" stroke="#e04853" stroke-width="1"/>
<rect x="558.00" y="507.00" width="1.00" height="20.00" fill="#19a079"/>
<rect x="556.00" y="509.00" width="6.00" height="18.00" fill="#19a079"/>
<rect x="566.00" y="462.00" width="1.00" height="9.00" fill="#e04853"/>
<rect x="566.00" y="526.00" width="1.00" height="3.00" fill="#e04853"/>
<rect x="563.5" y="471.5" width="5" height="54.0" fill="none" stroke="#e04853" stroke-width="1"/>
<rect x="573.00" y="457.00" width="1.00" height="27.00" fill="#19a079"/>
<rect x="571.00" y="471.00" width="6.00" height="5.00" fill="#19a079"/>
<rect x="581.00" y="462.00" width="1.00" height="10.00" fill="#e04853"/>
<rect x="581.00" y="476.00" width="1.00" height="2.00" fill="#e04853"/>
<rect x="578.5" y="472.5" width="5" height="3.0" fill="none" stroke="#e04853" stroke-width="1"/>
<rect x="588.00" y="459.00" width="1.00" height="7.00" fill="#e04853"/>
<rect x="588.00" y="471.00" width="1.00" height="4.00" fill="#e04853"/>
<rect x="586.5" y="466.5" width="5" height="4.0" fill="none" stroke="#e04853" stroke-width="1"/>
<rect x="596.00" y="461.00" width="1.00" height="8.00" fill="#19a079"/>
<rect x="593.00" y="465.00" width="6.00" height="4.00" fill="#19a079"/>
<rect x="603.00" y="464.00" width="1.00" height="19.00" fill="#19a079"/>
<rect x="601.00" y="467.00" width="6.00" height="14.00" fill="#19a079"/>
<rect x="611.00" y="466.00" width="1.00" height="51.00" fill="#19a079"/>
<rect x="608.00" y="480.00" width="6.00" height="37.00" fill="#19a079"/>
<rect x="618.00" y="512.00" width="1.00" height="20.00" fill="#19a079"/>
<rect x="616.00" y="516.00" width="6.00" height="9.00" fill="#19a079"/>
<rect x="626.00" y="514.00" width="1.00" height="4.00" fill="#e04853"/>
<rect x="626.00" y="524.00" width="1.00" height="4.00" fill="#e04853"/>
<rect x="623.5" y="518.5" width="5" height="5.0" fill="none" stroke="#e04853" stroke-width="1"/>
<rect x="633.00" y="518.00" width="1.00" height="6.00" fill="#e04853"/>
<rect x="631.5" y="507.5" width="5" height="10.0" fill="none" stroke="#e04853" stroke-width="1"/>
<rect x="641.00" y="498.00" width="1.00" height="8.00" fill="#e04853"/>
<rect x="641.00" y="508.00" width="1.00" height="9.00" fill="#e04853"/>
<rect x="638.00" y="506.00" width="6.00" height="2.00" fill="#e04853"/>
<rect x="648.00" y="500.00" width="1.00" height="14.00" fill="#19a079"/>
<rect x="646.00" y="505.00" width="6.00" height="2.00" fill="#19a079"/>
<rect x="656.00" y="481.00" width="1.00" height="19.00" fill="#e04853"/>
<rect x="656.00" y="506.00" width="1.00" height="12.00" fill="#e04853"/>
<rect x="653.5" y="500.5" width="5" height="5.0" fill="none" stroke="#e04853" stroke-width="1"/>
<rect x="663.00" y="490.00" width="1.00" height="15.00" fill="#19a079"/>
<rect x="661.00" y="500.00" width="6.00" height="4.00" fill="#19a079"/>
<rect x="671.00" y="492.00" width="1.00" height="3.00" fill="#e04853"/>
<rect x="671.00" y="504.00" width="1.00" height="1.00" fill="#e04853"/>
<rect x="668.5" y="495.5" width="5" height="8.0" fill="none" stroke="#e04853" stroke-width="1"/>
<rect x="678.00" y="487.00" width="1.00" height="13.00" fill="#19a079"/>
<rect x="676.00" y="495.00" width="6.00" height="4.00" fill="#19a079"/>
<rect x="686.00" y="493.00" width="1.00" height="8.00" fill="#19a079"/>
<rect x="683.00" y="498.00" width="6.00" height="3.00" fill="#19a079"/>
<rect x="693.00" y="496.00" width="1.00" height="2.00" fill="#e04853"/>
<rect x="693.00" y="500.00" width="1.00" height="3.00" fill="#e04853"/>
<rect x="691.00" y="498.00" width="6.00" height="2.00" fill="#e04853"/>
<rect x="701.00" y="493.00" width="1.00" height="23.00" fill="#19a079"/>
<rect x="698.00" y="498.00" width="6.00" height="15.00" fill="#19a079"/>
<rect x="708.00" y="505.00" width="1.00" height="2.00" fill="#e04853"/>
<rect x="708.00" y="513.00" width="1.00" height="2.00" fill="#e04853"/>
<rect x="706.5" y="507.5" width="5" height="5.0" fill="none" stroke="#e04853" stroke-width="1"/>
<rect x="716.00" y="488.00" width="1.00" height="13.00" fill="#e04853"/>
<rect x="713.5" y="501.5" width="5" height="6.0" fill="none" stroke="#e04853" stroke-width="1"/>
<rect x="723.00" y="498.00" width="1.00" height="12.00" fill="#19a079"/>
<rect x="721.00" y="502.00" width="6.00" height="5.00" fill="#19a079"/>
<rect x="731.00" y="498.00" width="1.00" height="5.00" fill="#e04853"/>
<rect x="731.00" y="506.00" width="1.00" height="1.00" fill="#e04853"/>
<rect x="728.5" y="503.5" width="5" height="2.0" fill="none" stroke="#e04853" stroke-width="1"/>
<rect x="738.00" y="495.00" width="1.00" height="2.00" fill="#e04853"/>
<rect x="738.00" y="503.00" width="1.00" height="1.00" fill="#e04853"/>
<rect x="736.5" y="497.5" width="5" height="5.0" fill="none" stroke="#e04853" stroke-width="1"/>
<rect x="746.00" y="492.00" width="1.00" height="16.00" fill="#19a079"/>
<rect x="743.00" y="497.00" width="6.00" height="3.00" fill="#19a079"/>
<rect x="753.00" y="497.00" width="1.00" height="26.00" fill="#19a079"/>
<rect x="751.00" y="498.00" width="6.00" height="3.00" fill="#19a079"/>
<rect x="761.00" y="498.00" width="1.00" height="35.00" fill="#19a079"/>
<rect x="758.00" y="500.00" width="6.00" height="28.00" fill="#19a079"/>
<rect x="768.00" y="518.00" width="1.00" height="4.00" fill="#e04853"/>
<rect x="768.00" y="528.00" width="1.00" height="3.00" fill="#e04853"/>
<rect x="766.5" y="522.5" width="5" height="5.0" fill="none" stroke="#e04853" stroke-width="1"/>
<rect x="776.00" y="522.00" width="1.00" height="41.00" fill="#19a079"/>
<rect x="773.00" y="522.00" width="6.00" height="35.00" fill="#19a079"/>
<rect x="783.00" y="548.00" width="1.00" height="4.00" fill="#e04853"/>
<rect x="783.00" y="557.00" width="1.00" height="3.00" fill="#e04853"/>
<rect x="781.5" y="552.5" width="5" height="4.0" fill="none" stroke="#e04853" stroke-width="1"/>
<rect x="791.00" y="528.00" width="1.00" height="16.00" fill="#e04853"/>
<rect x="788.5" y="544.5" width="5" height="8.0" fill="none" stroke="#e04853" stroke-width="1"/>
<rect x="798.00" y="470.00" width="1.00" height="20.00" fill="#e04853"/>
<rect x="798.00" y="544.00" width="1.00" height="8.00" fill="#e04853"/>
<rect x="796.5" y="490.5" width="5" height="53.0" fill="none" stroke="#e04853" stroke-width="1"/>
<rect x="806.00" y="473.00" width="1.00" height="12.00" fill="#e04853"/>
<rect x="806.00" y="490.00" width="1.00" height="1.00" fill="#e04853"/>
<rect x="803.5" y="485.5" width="5" height="4.0" fill="none" stroke="#e04853" stroke-width="1"/>
<rect x="813.00" y="467.00" width="1.00" height="26.00" fill="#19a079"/>
<rect x="811.00" y="485.00" width="6.00" height="4.00" fill="#19a079"/>
<rect x="821.00" y="482.00" width="1.00" height="11.00" fill="#19a079"/>
<rect x="818.00" y="488.00" width="6.00" height="3.00" fill="#19a079"/>
<rect x="828.00" y="474.00" width="1.00" height="14.00" fill="#e04853"/>
<rect x="828.00" y="490.00" width="1.00" height="4.00" fill="#e04853"/>
<rect x="826.00" y="488.00" width="6.00" height="2.00" fill="#e04853"/>
<rect x="836.00" y="448.00" width="1.00" height="12.00" fill="#e04853"/>
<rect x="833.5" y="460.5" width="5" height="29.0" fill="none" stroke="#e04853" stroke-width="1"/>
<rect x="843.00" y="457.00" width="1.00" height="13.00" fill="#19a079"/>
<rect x="841.00" y="459.00" width="6.00" height="3.00" fill="#19a079"/>
<rect x="851.00" y="457.00" width="1.00" height="2.00" fill="#e04853"/>
<rect x="851.00" y="462.00" width="1.00" height="7.00" fill="#e04853"/>
<rect x="848.5" y="459.5" width="5" height="2.0" fill="none" stroke="#e04853" stroke-width="1"/>
<rect x="858.00" y="457.00" width="1.00" height="11.00" fill="#19a079"/>
<rect x="856.00" y="459.00" width="6.00" height="4.00" fill="#19a079"/>
<rect x="866.00" y="452.00" width="1.00" height="15.00" fill="#19a079"/>
<rect x="863.00" y="462.00" width="6.00" height="4.00" fill="#19a079"/>
<rect x="873.00" y="431.00" width="1.00" height="5.00" fill="#e04853"/>
<rect x="871.5" y="436.5" width="5" height="29.0" fill="none" stroke="#e04853" stroke-width="1"/>
<rect x="881.00" y="432.00" width="1.00" height="43.00" fill="#19a079"/>
<rect x="878.00" y="436.00" width="6.00" height="32.00" fill="#19a079"/>
<rect x="888.00" y="461.00" width="1.00" height="22.00" fill="#19a079"/>
<rect x="886.00" y="467.00" width="6.00" height="4.00" fill="#19a079"/>
<rect x="896.00" y="451.00" width="1.00" height="13.00" fill="#e04853"/>
<rect x="896.00" y="471.00" width="1.00" height="1.00" fill="#e04853"/>
<rect x="893.5" y="464.5" width="5" height="6.0" fill="none" stroke="#e04853" stroke-width="1"/>
<rect x="903.00" y="447.00" width="1.00" height="4.00" fill="#e04853"/>
<rect x="903.00" y="464.00" width="1.00" height="1.00" fill="#e04853"/>
<rect x="901.5" y="451.5" width="5" height="12.0" fill="none" stroke="#e04853" stroke-width="1"/>
<rect x="911.00" y="441.00" width="1.00" height="4.00" fill="#e04853"/>
<rect x="911.00" y="452.00" width="1.00" height="9.00" fill="#e04853"/>
<rect x="908.5" y="445.5" width="5" height="6.0" fill="none" stroke="#e04853" stroke-width="1"/>
<rect x="918.00" y="412.00" width="1.00" height="10.00" fill="#e04853"/>
<rect x="918.00" y="445.00" width="1.00" height="4.00" fill="#e04853"/>
<rect x="916.5" y="422.5" width="5" height="22.0" fill="none" stroke="#e04853" stroke-width="1"/>
<rect x="926.00" y="402.00" width="1.00" height="33.00" fill="#19a079"/>
<rect x="923.00" y="422.00" width="6.00" height="12.00" fill="#19a079"/>
<rect x="933.00" y="432.00" width="1.00" height="38.00" fill="#19a079"/>
<rect x="931.00" y="433.00" width="6.00" height="36.00" fill="#19a079"/>
<rect x="941.00" y="465.00" width="1.00" height="61.00" fill="#19a079"/>
<rect x="938.00" y="468.00" width="6.00" height="30.00" fill="#19a079"/>
<rect x="948.00" y="490.00" width="1.00" height="6.00" fill="#e04853"/>
<rect x="948.00" y="498.00" width="1.00" height="8.00" fill="#e04853"/>
<rect x="946.00" y="496.00" width="6.00" height="2.00" fill="#e04853"/>
<rect x="956.00" y="484.00" width="1.00" height="4.00" fill="#e04853"/>
<rect x="956.00" y="497.00" width="1.00" height="8.00" fill="#e04853"/>
<rect x="953.5" y="488.5" width="5" height="8.0" fill="none" stroke="#e04853" stroke-width="1"/>
<rect x="963.00" y="486.00" width="1.00" height="23.00" fill="#19a079"/>
<rect x="961.00" y="488.00" width="6.00" height="5.00" fill="#19a079"/>
<rect x="971.00" y="490.00" width="1.00" height="51.00" fill="#19a079"/>
<rect x="968.00" y="492.00" width="6.00" height="45.00" fill="#19a079"/>
<rect x="978.00" y="524.00" width="1.00" height="11.00" fill="#e04853"/>
<rect x="978.00" y="537.00" width="1.00" height="8.00" fill="#e04853"/>
<rect x="976.00" y="535.00" width="6.00" height="2.00" fill="#e04853"/>
<rect x="986.00" y="522.00" width="1.00" height="5.00" fill="#e04853"/>
<rect x="986.00" y="536.00" width="1.00" height="3.00" fill="#e04853"/>
<rect x="983.5" y="527.5" width="5" height="8.0" fill="none" stroke="#e04853" stroke-width="1"/>
<rect x="993.00" y="520.00" width="1.00" height="17.00" fill="#19a079"/>
<rect x="991.00" y="527.00" width="6.00" height="9.00" fill="#19a079"/>
<rect x="1001.00" y="527.00" width="1.00" height="3.00" fill="#e04853"/>
<rect x="1001.00" y="536.00" width="1.00" height="6.00" fill="#e04853"/>
<rect x="998.5" y="530.5" width="5" height="5.0" fill="none" stroke="#e04853" stroke-width="1"/>
<rect x="1008.00" y="526.00" width="1.00" height="8.00" fill="#19a079"/>
<rect x="1006.00" y="529.00" width="6.00" height="4.00" fill="#19a079"/>
<rect x="1016.00" y="521.00" width="1.00" height="2.00" fill="#e04853"/>
<rect x="1016.00" y="532.00" width="1.00" height="1.00" fill="#e04853"/>
<rect x="1013.5" y="523.5" width="5" height="8.0" fill="none" stroke="#e04853" stroke-width="1"/>
<rect x="1023.00" y="516.00" width="1.00" height="12.00" fill="#19a079"/>
<rect x="1021.00" y="523.00" width="6.00" height="4.00" fill="#19a079"/>
<rect x="1031.00" y="516.00" width="1.00" height="24.00" fill="#19a079"/>
<rect x="1028.00" y="525.00" width="6.00" height="12.00" fill="#19a079"/>
<rect x="1038.00" y="521.00" width="1.00" height="2.00" fill="#e04853"/>
<rect x="1036.5" y="523.5" width="5" height="13.0" fill="none" stroke="#e04853" stroke-width="1"/>
<rect x="1046.00" y="522.00" width="1.00" height="8.00" fill="#19a079"/>
<rect x="1043.00" y="523.00" width="6.00" height="4.00" fill="#19a079"/>
<rect x="1053.00" y="522.00" width="1.00" height="10.00" fill="#19a079"/>
<rect x="1051.00" y="524.00" width="6.00" height="7.00" fill="#19a079"/>
<rect x="1061.00" y="516.00" width="1.00" height="13.00" fill="#e04853"/>
<rect x="1061.00" y="530.00" width="1.00" height="9.00" fill="#e04853"/>
<rect x="1058.00" y="529.00" width="6.00" height="1.00" fill="#e04853"/>
<rect x="1068.00" y="522.00" width="1.00" height="4.00" fill="#e04853"/>
<rect x="1068.00" y="528.00" width="1.00" height="29.00" fill="#e04853"/>
<rect x="1066.00" y="526.00" width="6.00" height="2.00" fill="#e04853"/>
<rect x="1076.00" y="523.00" width="1.00" height="14.00" fill="#19a079"/>
<rect x="1073.00" y="526.00" width="6.00" height="11.00" fill="#19a079"/>
<rect x="1083.00" y="535.00" width="1.00" height="30.00" fill="#19a079"/>
<rect x="1081.00" y="536.00" width="6.00" height="9.00" fill="#19a079"/>
<rect x="1091.00" y="543.00" width="1.00" height="41.00" fill="#19a079"/>
<rect x="1088.00" y="544.00" width="6.00" height="31.00" fill="#19a079"/>
<rect x="1098.00" y="574.00" width="1.00" height="2.00" fill="#e04853"/>
<rect x="1096.5" y="571.5" width="5" height="2.0" fill="none" stroke="#e04853" stroke-width="1"/>
<rect x="1.00" y="651.00" width="6.00" height="74.00" fill="#19a079"/>
<rect x="8.5" y="698.5" width="5" height="26.0" fill="none" stroke="#e04853" stroke-width="1"/>
<rect x="16.5" y="694.5" width="5" height="30.0" fill="none" stroke="#e04853" stroke-width="1"/>
<rect x="23.5" y="632.5" width="5" height="92.0" fill="none" stroke="#e04853" stroke-width="1"/>
<rect x="31.00" y="686.00" width="6.00" height="39.00" fill="#19a079"/>
<rect x="38.00" y="709.00" width="6.00" height="16.00" fill="#19a079"/>
<rect x="46.5" y="681.5" width="5" height="43.0" fill="none" stroke="#e04853" stroke-width="1"/>
<rect x="53.00" y="710.00" width="6.00" height="15.00" fill="#19a079"/>
<rect x="61.00" y="710.00" width="6.00" height="15.00" fill="#19a079"/>
<rect x="68.00" y="683.00" width="6.00" height="42.00" fill="#19a079"/>
<rect x="76.00" y="692.00" width="6.00" height="33.00" fill="#19a079"/>
<rect x="83.00" y="704.00" width="6.00" height="21.00" fill="#19a079"/>
<rect x="91.5" y="703.5" width="5" height="21.0" fill="none" stroke="#e04853" stroke-width="1"/>
<rect x="98.5" y="704.5" width="5" height="20.0" fill="none" stroke="#e04853" stroke-width="1"/>
<rect x="106.00" y="707.00" width="6.00" height="18.00" fill="#19a079"/>
<rect x="113.5" y="700.5" width="5" height="24.0" fill="none" stroke="#e04853" stroke-width="1"/>
<rect x="121.00" y="701.00" width="6.00" height="24.00" fill="#19a079"/>
<rect x="128.5" y="676.5" width="5" height="48.0" fill="none" stroke="#e04853" stroke-width="1"/>
<rect x="136.00" y="685.00" width="6.00" height="40.00" fill="#19a079"/>
<rect x="143.5" y="705.5" width="5" height="19.0" fill="none" stroke="#e04853" stroke-width="1"/>
<rect x="151.00" y="696.00" width="6.00" height="29.00" fill="#19a079"/>
<rect x="158.00" y="683.00" width="6.00" height="42.00" fill="#19a079"/>
<rect x="166.5" y="691.5" width="5" height="33.0" fill="none" stroke="#e04853" stroke-width="1"/>
<rect x="173.5" y="686.5" width="5" height="38.0" fill="none" stroke="#e04853" stroke-width="1"/>
<rect x="181.5" y="707.5" width="5" height="17.0" fill="none" stroke="#e04853" stroke-width="1"/>
<rect x="188.5" y="709.5" width="5" height="15.0" fill="none" stroke="#e04853" stroke-width="1"/>
<rect x="196.00" y="711.00" width="6.00" height="14.00" fill="#19a079"/>
<rect x="203.00" y="635.00" width="6.00" height="90.00" fill="#19a079"/>
<rect x="211.5" y="682.5" width="5" height="42.0" fill="none" stroke="#e04853" stroke-width="1"/>
<rect x="218.00" y="696.00" width="6.00" height="29.00" fill="#19a079"/>
<rect x="226.00" y="672.00" width="6.00" height="53.00" fill="#19a079"/>
<rect x="233.5" y="709.5" width="5" height="15.0" fill="none" stroke="#e04853" stroke-width="1"/>
<rect x="241.00" y="692.00" width="6.00" height="33.00" fill="#19a079"/>
<rect x="248.00" y="661.00" width="6.00" height="64.00" fill="#19a079"/>
<rect x="256.00" y="652.00" width="6.00" height="73.00" fill="#19a079"/>
<rect x="263.00" y="707.00" width="6.00" height="18.00" fill="#19a079"/>
<rect x="271.5" y="693.5" width="5" height="31.0" fill="none" stroke="#e04853" stroke-width="1"/>
<rect x="278.5" y="710.5" width="5" height="14.0" fill="none" stroke="#e04853" stroke-width="1"/>
<rect x="286.5" y="704.5" width="5" height="20.0" fill="none" stroke="#e04853" stroke-width="1"/>
<rect x="293.00" y="685.00" width="6.00" height="40.00" fill="#19a079"/>
<rect x="301.5" y="702.5" width="5" height="22.0" fill="none" stroke="#e04853" stroke-width="1"/>
<rect x="308.5" y="712.5" width="5" height="12.0" fill="none" stroke="#e04853" stroke-width="1"/>
<rect x="316.5" y="710.5" width="5" height="14.0" fill="none" stroke="#e04853" stroke-width="1"/>
<rect x="323.5" y="706.5" width="5" height="18.0" fill="none" stroke="#e04853" stroke-width="1"/>
<rect x="331.00" y="695.00" width="6.00" height="30.00" fill="#19a079"/>
<rect x="338.5" y="660.5" width="5" height="64.0" fill="none" stroke="#e04853" stroke-width="1"/>
<rect x="346.00" y="661.00" width="6.00" height="64.00" fill="#19a079"/>
<rect x="353.00" y="699.00" width="6.00" height="26.00" fill="#19a079"/>
<rect x="361.5" y="705.5" width="5" height="19.0" fill="none" stroke="#e04853" stroke-width="1"/>
<rect x="368.5" y="710.5" width="5" height="14.0" fill="none" stroke="#e04853" stroke-width="1"/>
<rect x="376.00" y="713.00" width="6.00" height="12.00" fill="#19a079"/>
<rect x="383.00" y="710.00" width="6.00" height="15.00" fill="#19a079"/>
<rect x="391.5" y="711.5" width="5" height="13.0" fill="none" stroke="#e04853" stroke-width="1"/>
<rect x="398.5" y="712.5" width="5" height="12.0" fill="none" stroke="#e04853" stroke-width="1"/>
<rect x="406.5" y="713.5" width="5" height="11.0" fill="none" stroke="#e04853" stroke-width="1"/>
<rect x="413.00" y="713.00" width="6.00" height="12.00" fill="#19a079"/>
<rect x="421.5" y="711.5" width="5" height="13.0" fill="none" stroke="#e04853" stroke-width="1"/>
<rect x="428.5" y="707.5" width="5" height="17.0" fill="none" stroke="#e04853" stroke-width="1"/>
<rect x="436.5" y="700.5" width="5" height="24.0" fill="none" stroke="#e04853" stroke-width="1"/>
<rect x="443.00" y="676.00" width="6.00" height="49.00" fill="#19a079"/>
<rect x="451.00" y="685.00" width="6.00" height="40.00" fill="#19a079"/>
<rect x="458.5" y="707.5" width="5" height="17.0" fill="none" stroke="#e04853" stroke-width="1"/>
<rect x="466.00" y="658.00" width="6.00" height="67.00" fill="#19a079"/>
<rect x="473.00" y="683.00" width="6.00" height="42.00" fill="#19a079"/>
<rect x="481.00" y="663.00" width="6.00" height="62.00" fill="#19a079"/>
<rect x="488.00" y="661.00" width="6.00" height="64.00" fill="#19a079"/>
<rect x="496.5" y="698.5" width="5" height="26.0" fill="none" stroke="#e04853" stroke-width="1"/>
<rect x="503.5" y="686.5" width="5" height="38.0" fill="none" stroke="#e04853" stroke-width="1"/>
<rect x="511.5" y="701.5" width="5" height="23.0" fill="none" stroke="#e04853" stroke-width="1"/>
<rect x="518.00" y="653.00" width="6.00" height="72.00" fill="#19a079"/>
<rect x="526.00" y="692.00" width="6.00" height="33.00" fill="#19a079"/>
<rect x="533.5" y="699.5" width="5" height="25.0" fill="none" stroke="#e04853" stroke-width="1"/>
<rect x="541.5" y="702.5" width="5" height="22.0" fill="none" stroke="#e04853" stroke-width="1"/>
<rect x="548.5" y="710.5" width="5" height="14.0" fill="none" stroke="#e04853" stroke-width="1"/>
<rect x="556.00" y="702.00" width="6.00" height="23.00" fill="#19a079"/>
<rect x="563.5" y="664.5" width="5" height="60.0" fill="none" stroke="#e04853" stroke-width="1"/>
<rect x="571.00" y="696.00" width="6.00" height="29.00" fill="#19a079"/>
<rect x="578.5" y="716.5" width="5" height="8.0" fill="none" stroke="#e04853" stroke-width="1"/>
<rect x="586.5" y="712.5" width="5" height="12.0" fill="none" stroke="#e04853" stroke-width="1"/>
<rect x="593.00" y="711.00" width="6.00" height="14.00" fill="#19a079"/>
<rect x="601.00" y="706.00" width="6.00" height="19.00" fill="#19a079"/>
<rect x="608.00" y="662.00" width="6.00" height="63.00" fill="#19a079"/>
<rect x="616.00" y="694.00" width="6.00" height="31.00" fill="#19a079"/>
<rect x="623.5" y="715.5" width="5" height="9.0" fill="none" stroke="#e04853" stroke-width="1"/>
<rect x="631.5" y="708.5" width="5" height="16.0" fill="none" stroke="#e04853" stroke-width="1"/>
<rect x="638.5" y="706.5" width="5" height="18.0" fill="none" stroke="#e04853" stroke-width="1"/>
<rect x="646.00" y="705.00" width="6.00" height="20.00" fill="#19a079"/>
<rect x="653.5" y="697.5" width="5" height="27.0" fill="none" stroke="#e04853" stroke-width="1"/>
<rect x="661.00" y="707.00" width="6.00" height="18.00" fill="#19a079"/>
<rect x="668.5" y="720.5" width="5" height="4.0" fill="none" stroke="#e04853" stroke-width="1"/>
<rect x="676.00" y="715.00" width="6.00" height="10.00" fill="#19a079"/>
<rect x="683.00" y="718.00" width="6.00" height="7.00" fill="#19a079"/>
<rect x="691.5" y="712.5" width="5" height="12.0" fill="none" stroke="#e04853" stroke-width="1"/>
<rect x="698.00" y="701.00" width="6.00" height="24.00" fill="#19a079"/>
<rect x="706.5" y="716.5" width="5" height="8.0" fill="none" stroke="#e04853" stroke-width="1"/>
<rect x="713.5" y="714.5" width="5" height="10.0" fill="none" stroke="#e04853" stroke-width="1"/>
<rect x="721.00" y="715.00" width="6.00" height="10.00" fill="#19a079"/>
<rect x="728.5" y="717.5" width="5" height="7.0" fill="none" stroke="#e04853" stroke-width="1"/>
<rect x="736.5" y="716.5" width="5" height="8.0" fill="none" stroke="#e04853" stroke-width="1"/>
<rect x="743.00" y="704.00" width="6.00" height="21.00" fill="#19a079"/>
<rect x="751.00" y="705.00" width="6.00" height="20.00" fill="#19a079"/>
<rect x="758.00" y="704.00" width="6.00" height="21.00" fill="#19a079"/>
<rect x="766.5" y="711.5" width="5" height="13.0" fill="none" stroke="#e04853" stroke-width="1"/>
<rect x="773.00" y="677.00" width="6.00" height="48.00" fill="#19a079"/>
<rect x="781.5" y="710.5" width="5" height="14.0" fill="none" stroke="#e04853" stroke-width="1"/>
<rect x="788.5" y="680.5" width="5" height="44.0" fill="none" stroke="#e04853" stroke-width="1"/>
<rect x="796.5" y="661.5" width="5" height="63.0" fill="none" stroke="#e04853" stroke-width="1"/>
<rect x="803.5" y="706.5" width="5" height="18.0" fill="none" stroke="#e04853" stroke-width="1"/>
<rect x="811.00" y="701.00" width="6.00" height="24.00" fill="#19a079"/>
<rect x="818.00" y="712.00" width="6.00" height="13.00" fill="#19a079"/>
<rect x="826.5" y="710.5" width="5" height="14.0" fill="none" stroke="#e04853" stroke-width="1"/>
<rect x="833.5" y="684.5" width="5" height="40.0" fill="none" stroke="#e04853" stroke-width="1"/>
<rect x="841.00" y="711.00" width="6.00" height="14.00" fill="#19a079"/>
<rect x="848.5" y="717.5" width="5" height="7.0" fill="none" stroke="#e04853" stroke-width="1"/>
<rect x="856.00" y="716.00" width="6.00" height="9.00" fill="#19a079"/>
<rect x="863.00" y="710.00" width="6.00" height="15.00" fill="#19a079"/>
<rect x="871.5" y="686.5" width="5" height="38.0" fill="none" stroke="#e04853" stroke-width="1"/>
<rect x="878.00" y="675.00" width="6.00" height="50.00" fill="#19a079"/>
<rect x="886.00" y="702.00" width="6.00" height="23.00" fill="#19a079"/>
<rect x="893.5" y="714.5" width="5" height="10.0" fill="none" stroke="#e04853" stroke-width="1"/>
<rect x="901.5" y="711.5" width="5" height="13.0" fill="none" stroke="#e04853" stroke-width="1"/>
<rect x="908.5" y="707.5" width="5" height="17.0" fill="none" stroke="#e04853" stroke-width="1"/>
<rect x="916.5" y="677.5" width="5" height="47.0" fill="none" stroke="#e04853" stroke-width="1"/>
<rect x="923.00" y="677.00" width="6.00" height="48.00" fill="#19a079"/>
<rect x="931.00" y="681.00" width="6.00" height="44.00" fill="#19a079"/>
<rect x="938.00" y="676.00" width="6.00" height="49.00" fill="#19a079"/>
<rect x="946.5" y="704.5" width="5" height="20.0" fill="none" stroke="#e04853" stroke-width="1"/>
<rect x="953.5" y="704.5" width="5" height="20.0" fill="none" stroke="#e04853" stroke-width="1"/>
<rect x="961.00" y="704.00" width="6.00" height="21.00" fill="#19a079"/>
<rect x="968.00" y="666.00" width="6.00" height="59.00" fill="#19a079"/>
<rect x="976.5" y="690.5" width="5" height="34.0" fill="none" stroke="#e04853" stroke-width="1"/>
<rect x="983.5" y="715.5" width="5" height="9.0" fill="none" stroke="#e04853" stroke-width="1"/>
<rect x="991.00" y="712.00" width="6.00" height="13.00" fill="#19a079"/>
<rect x="998.5" y="711.5" width="5" height="13.0" fill="none" stroke="#e04853" stroke-width="1"/>
<rect x="1006.00" y="713.00" width="6.00" height="12.00" fill="#19a079"/>
<rect x="1013.5" y="711.5" width="5" height="13.0" fill="none" stroke="#e04853" stroke-width="1"/>
<rect x="1021.00" y="711.00" width="6.00" height="14.00" fill="#19a079"/>
<rect x="1028.00" y="712.00" width="6.00" height="13.00" fill="#19a079"/>
<rect x="1036.5" y="710.5" width="5" height="14.0" fill="none" stroke="#e04853" stroke-width="1"/>
<rect x="1043.00" y="715.00" width="6.00" height="10.00" fill="#19a079"/>
<rect x="1051.00" y="715.00" width="6.00" height="10.00" fill="#19a079"/>
<rect x="1058.5" y="696.5" width="5" height="28.0" fill="none" stroke="#e04853" stroke-width="1"/>
<rect x="1066.5" y="690.5" width="5" height="34.0" fill="none" stroke="#e04853" stroke-width="1"/>
<rect x="1073.00" y="715.00" width="6.00" height="10.00" fill="#19a079"/>
<rect x="1081.00" y="683.00" width="6.00" height="42.00" fill="#19a079"/>
<rect x="1088.00" y="675.00" width="6.00" height="50.00" fill="#19a079"/>
<rect x="1096.5" y="673.5" width="5" height="51.0" fill="none" stroke="#8a8d93" stroke-width="1" stroke-dasharray="2 1.5"/>
<rect x="1096.00" y="723.00" width="6.00" height="2.00" fill="#e04853"/>
<polyline points="0.0,679.2 3.7,674.1 11.2,671.1 18.7,681.9 26.0,676.6 33.6,672.7 41.1,683.9 48.6,680.6 55.9,685.3 63.4,699.1 71.0,699.1 78.5,695.5 86.0,700.2 93.5,698.9 101.1,697.9 108.6,701.6 116.1,704.2 123.6,702.6 131.2,697.5 138.7,694.5 146.0,694.1 153.5,692.4 161.0,688.8 168.6,690.4 176.1,692.4 183.6,693.5 191.1,695.5 198.7,700.2 206.2,689.0 213.7,688.4 221.2,686.3 228.8,679.2 236.3,679.2 243.6,689.8 251.1,686.3 258.6,677.6 266.2,683.3 273.7,681.9 281.2,686.3 288.7,694.5 296.2,700.2 303.8,699.6 311.1,702.6 318.6,703.0 326.1,704.2 333.6,705.2 341.2,694.5 348.7,686.3 356.2,683.9 363.7,683.9 371.1,687.4 378.6,696.5 386.1,707.3 393.6,710.1 401.2,711.8 408.7,712.8 416.2,712.8 423.7,711.8 431.0,710.7 438.6,709.3 446.1,703.6 453.6,697.5 461.1,695.5 468.7,686.3 476.2,683.3 483.7,680.6 491.2,675.8 498.8,672.7 506.3,678.8 513.8,682.9 521.3,680.6 528.9,686.3 536.4,686.7 543.7,690.0 551.2,691.4 558.7,701.2 566.2,695.5 573.8,695.1 581.1,697.9 588.6,697.5 596.1,700.6 603.6,707.7 611.2,702.2 618.7,697.9 626.2,697.9 633.7,697.9 641.1,697.9 648.6,706.1 656.1,706.1 663.6,705.2 671.2,707.7 678.7,709.3 686.2,712.2 693.7,715.4 701.0,714.2 708.6,712.8 716.1,712.4 723.6,711.3 731.1,712.8 738.7,715.4 746.2,712.8 753.7,711.3 761.2,709.3 768.8,708.1 776.3,700.0 783.8,701.2 791.3,696.5 798.9,689.0 806.4,687.4 813.9,692.8 828.8,697.5 836.1,702.6 843.6,703.6 851.1,706.3 858.7,708.1 866.2,708.1 873.7,707.7 881.2,701.2 888.8,697.5 896.1,697.5 903.6,697.5 911.1,703.2 918.7,701.6 926.2,696.5 933.7,690.4 941.2,683.9 948.8,683.9 956.1,688.4 963.6,693.9 971.1,691.8 978.6,694.1 986.2,695.1 993.7,697.5 1001.2,699.1 1008.7,709.3 1016.1,712.8 1023.6,712.8 1031.1,711.3 1038.6,711.3 1046.2,712.4 1053.7,712.4 1061.2,710.1 1068.7,705.0 1076.0,706.3 1083.6,700.2 1091.1,692.4 1098.6,697.5" fill="none" stroke="#c9ccd1" stroke-width="1.1" stroke-linejoin="round" stroke-linecap="round"/>
<polyline points="0.0,692.4 12.2,690.4 26.0,687.8 33.6,687.4 48.6,689.4 63.4,690.4 81.3,691.4 101.7,691.4 116.1,692.8 131.2,692.4 146.0,691.4 161.0,691.4 176.1,691.4 191.1,691.4 206.2,690.4 221.2,691.4 236.3,691.4 251.1,692.8 258.6,692.0 273.7,692.8 288.7,692.0 303.8,692.8 318.6,692.8 333.6,692.8 348.7,690.4 363.7,691.4 386.1,692.4 401.2,694.9 423.7,695.5 431.0,697.9 446.1,697.9 461.1,697.5 476.2,697.9 491.2,696.9 506.3,695.5 521.3,693.9 536.4,693.9 543.7,694.5 558.7,694.1 573.8,695.1 596.1,696.5 611.2,694.1 633.7,694.1 641.1,692.8 663.6,692.8 678.7,695.1 686.2,695.5 693.7,697.5 701.0,697.9 708.6,700.2 723.6,701.6 738.7,704.0 753.7,705.2 768.8,706.1 783.8,705.2 791.3,706.1 806.4,704.2 820.0,704.2 843.6,705.2 858.7,706.1 873.7,705.2 888.8,704.0 911.1,704.0 926.2,701.6 941.2,699.6 956.1,699.1 971.1,696.5 986.2,696.5 1001.2,697.5 1008.7,697.5 1016.1,699.1 1023.6,701.6 1038.6,701.6 1053.7,701.6 1068.7,701.6 1076.0,701.6 1083.6,700.2 1091.1,699.6 1098.6,700.2" fill="none" stroke="#eadf1e" stroke-width="1.25" stroke-linejoin="round" stroke-linecap="round"/>
<rect x="1.00" y="802.00" width="6.00" height="37.00" fill="#19a079"/>
<rect x="8.00" y="802.00" width="6.00" height="37.00" fill="#19a079"/>
<rect x="16.5" y="802.5" width="5" height="33.0" fill="none" stroke="#19a079" stroke-width="1"/>
<rect x="23.5" y="802.5" width="5" height="22.0" fill="none" stroke="#19a079" stroke-width="1"/>
<rect x="31.5" y="802.5" width="5" height="15.0" fill="none" stroke="#19a079" stroke-width="1"/>
<rect x="38.5" y="802.5" width="5" height="10.0" fill="none" stroke="#19a079" stroke-width="1"/>
<rect x="46.5" y="802.5" width="5" height="5.0" fill="none" stroke="#19a079" stroke-width="1"/>
<rect x="53.00" y="801.00" width="6.00" height="2.00" fill="#19a079"/>
<rect x="61.00" y="800.00" width="6.00" height="2.00" fill="#e04853"/>
<rect x="68.00" y="800.00" width="6.00" height="2.00" fill="#e04853"/>
<rect x="76.00" y="801.00" width="6.00" height="2.00" fill="#19a079"/>
<rect x="83.00" y="802.00" width="6.00" height="5.00" fill="#19a079"/>
<rect x="91.5" y="802.5" width="5" height="3.0" fill="none" stroke="#19a079" stroke-width="1"/>
<rect x="98.00" y="801.00" width="6.00" height="2.00" fill="#19a079"/>
<rect x="106.00" y="801.00" width="6.00" height="2.00" fill="#19a079"/>
<rect x="113.00" y="800.00" width="6.00" height="2.00" fill="#e04853"/>
<rect x="121.00" y="800.00" width="6.00" height="2.00" fill="#e04853"/>
<rect x="128.00" y="800.00" width="6.00" height="2.00" fill="#e04853"/>
<rect x="136.00" y="801.00" width="6.00" height="2.00" fill="#19a079"/>
<rect x="143.00" y="801.00" width="6.00" height="2.00" fill="#19a079"/>
<rect x="151.00" y="801.00" width="6.00" height="2.00" fill="#19a079"/>
<rect x="158.00" y="802.00" width="6.00" height="5.00" fill="#19a079"/>
<rect x="166.5" y="802.5" width="5" height="4.0" fill="none" stroke="#19a079" stroke-width="1"/>
<rect x="173.00" y="800.00" width="6.00" height="2.00" fill="#e04853"/>
<rect x="181.00" y="800.00" width="6.00" height="2.00" fill="#e04853"/>
<rect x="188.5" y="798.5" width="5" height="3.0" fill="none" stroke="#e04853" stroke-width="1"/>
<rect x="196.5" y="796.5" width="5" height="5.0" fill="none" stroke="#e04853" stroke-width="1"/>
<rect x="203.00" y="800.00" width="6.00" height="2.00" fill="#e04853"/>
<rect x="211.00" y="801.00" width="6.00" height="2.00" fill="#19a079"/>
<rect x="218.00" y="802.00" width="6.00" height="7.00" fill="#19a079"/>
<rect x="226.00" y="802.00" width="6.00" height="10.00" fill="#19a079"/>
<rect x="233.00" y="802.00" width="6.00" height="11.00" fill="#19a079"/>
<rect x="241.00" y="802.00" width="6.00" height="15.00" fill="#19a079"/>
<rect x="248.00" y="802.00" width="6.00" height="19.00" fill="#19a079"/>
<rect x="256.00" y="802.00" width="6.00" height="24.00" fill="#19a079"/>
<rect x="263.00" y="802.00" width="6.00" height="28.00" fill="#19a079"/>
<rect x="271.00" y="802.00" width="6.00" height="29.00" fill="#19a079"/>
<rect x="278.5" y="802.5" width="5" height="26.0" fill="none" stroke="#19a079" stroke-width="1"/>
<rect x="286.5" y="802.5" width="5" height="21.0" fill="none" stroke="#19a079" stroke-width="1"/>
<rect x="293.5" y="802.5" width="5" height="19.0" fill="none" stroke="#19a079" stroke-width="1"/>
<rect x="301.5" y="802.5" width="5" height="15.0" fill="none" stroke="#19a079" stroke-width="1"/>
<rect x="308.5" y="802.5" width="5" height="11.0" fill="none" stroke="#19a079" stroke-width="1"/>
<rect x="316.5" y="802.5" width="5" height="8.0" fill="none" stroke="#19a079" stroke-width="1"/>
<rect x="323.5" y="802.5" width="5" height="3.0" fill="none" stroke="#19a079" stroke-width="1"/>
<rect x="331.5" y="802.5" width="5" height="3.0" fill="none" stroke="#19a079" stroke-width="1"/>
<rect x="338.00" y="800.00" width="6.00" height="2.00" fill="#e04853"/>
<rect x="346.00" y="802.00" width="6.00" height="3.00" fill="#19a079"/>
<rect x="353.00" y="802.00" width="6.00" height="7.00" fill="#19a079"/>
<rect x="361.00" y="802.00" width="6.00" height="8.00" fill="#19a079"/>
<rect x="368.5" y="802.5" width="5" height="6.0" fill="none" stroke="#19a079" stroke-width="1"/>
<rect x="376.5" y="802.5" width="5" height="4.0" fill="none" stroke="#19a079" stroke-width="1"/>
<rect x="383.5" y="802.5" width="5" height="3.0" fill="none" stroke="#19a079" stroke-width="1"/>
<rect x="391.00" y="801.00" width="6.00" height="2.00" fill="#19a079"/>
<rect x="398.00" y="800.00" width="6.00" height="2.00" fill="#e04853"/>
<rect x="406.5" y="798.5" width="5" height="3.0" fill="none" stroke="#e04853" stroke-width="1"/>
<rect x="413.5" y="796.5" width="5" height="5.0" fill="none" stroke="#e04853" stroke-width="1"/>
<rect x="421.5" y="795.5" width="5" height="6.0" fill="none" stroke="#e04853" stroke-width="1"/>
<rect x="428.5" y="794.5" width="5" height="7.0" fill="none" stroke="#e04853" stroke-width="1"/>
<rect x="436.5" y="790.5" width="5" height="11.0" fill="none" stroke="#e04853" stroke-width="1"/>
<rect x="443.00" y="794.00" width="6.00" height="8.00" fill="#e04853"/>
<rect x="451.00" y="796.00" width="6.00" height="6.00" fill="#e04853"/>
<rect x="458.00" y="798.00" width="6.00" height="4.00" fill="#e04853"/>
<rect x="466.00" y="802.00" width="6.00" height="3.00" fill="#19a079"/>
<rect x="473.00" y="802.00" width="6.00" height="10.00" fill="#19a079"/>
<rect x="481.00" y="802.00" width="6.00" height="16.00" fill="#19a079"/>
<rect x="488.00" y="802.00" width="6.00" height="22.00" fill="#19a079"/>
<rect x="496.00" y="802.00" width="6.00" height="23.00" fill="#19a079"/>
<rect x="503.5" y="802.5" width="5" height="17.0" fill="none" stroke="#19a079" stroke-width="1"/>
<rect x="511.5" y="802.5" width="5" height="12.0" fill="none" stroke="#19a079" stroke-width="1"/>
<rect x="518.5" y="802.5" width="5" height="9.0" fill="none" stroke="#19a079" stroke-width="1"/>
<rect x="526.00" y="802.00" width="6.00" height="11.00" fill="#19a079"/>
<rect x="533.5" y="802.5" width="5" height="6.0" fill="none" stroke="#19a079" stroke-width="1"/>
<rect x="541.5" y="802.5" width="5" height="3.0" fill="none" stroke="#19a079" stroke-width="1"/>
<rect x="548.00" y="800.00" width="6.00" height="2.00" fill="#e04853"/>
<rect x="556.00" y="800.00" width="6.00" height="2.00" fill="#e04853"/>
<rect x="563.5" y="791.5" width="5" height="10.0" fill="none" stroke="#e04853" stroke-width="1"/>
<rect x="571.5" y="787.5" width="5" height="14.0" fill="none" stroke="#e04853" stroke-width="1"/>
<rect x="578.5" y="783.5" width="5" height="18.0" fill="none" stroke="#e04853" stroke-width="1"/>
<rect x="586.5" y="780.5" width="5" height="21.0" fill="none" stroke="#e04853" stroke-width="1"/>
<rect x="593.5" y="779.5" width="5" height="22.0" fill="none" stroke="#e04853" stroke-width="1"/>
<rect x="601.00" y="781.00" width="6.00" height="21.00" fill="#e04853"/>
<rect x="608.00" y="789.00" width="6.00" height="13.00" fill="#e04853"/>
<rect x="616.00" y="795.00" width="6.00" height="7.00" fill="#e04853"/>
<rect x="623.00" y="798.00" width="6.00" height="4.00" fill="#e04853"/>
<rect x="631.00" y="798.00" width="6.00" height="4.00" fill="#e04853"/>
<rect x="638.5" y="798.5" width="5" height="3.0" fill="none" stroke="#e04853" stroke-width="1"/>
<rect x="646.5" y="798.5" width="5" height="3.0" fill="none" stroke="#e04853" stroke-width="1"/>
<rect x="653.5" y="796.5" width="5" height="5.0" fill="none" stroke="#e04853" stroke-width="1"/>
<rect x="661.5" y="796.5" width="5" height="5.0" fill="none" stroke="#e04853" stroke-width="1"/>
<rect x="668.5" y="794.5" width="5" height="7.0" fill="none" stroke="#e04853" stroke-width="1"/>
<rect x="676.5" y="794.5" width="5" height="7.0" fill="none" stroke="#e04853" stroke-width="1"/>
<rect x="683.00" y="795.00" width="6.00" height="7.00" fill="#e04853"/>
<rect x="691.00" y="795.00" width="6.00" height="7.00" fill="#e04853"/>
<rect x="698.00" y="796.00" width="6.00" height="6.00" fill="#e04853"/>
<rect x="706.00" y="798.00" width="6.00" height="4.00" fill="#e04853"/>
<rect x="713.5" y="798.5" width="5" height="3.0" fill="none" stroke="#e04853" stroke-width="1"/>
<rect x="721.00" y="798.00" width="6.00" height="4.00" fill="#e04853"/>
<rect x="728.00" y="798.00" width="6.00" height="4.00" fill="#e04853"/>
<rect x="736.5" y="796.5" width="5" height="5.0" fill="none" stroke="#e04853" stroke-width="1"/>
<rect x="743.5" y="796.5" width="5" height="5.0" fill="none" stroke="#e04853" stroke-width="1"/>
<rect x="751.00" y="796.00" width="6.00" height="6.00" fill="#e04853"/>
<rect x="758.00" y="800.00" width="6.00" height="2.00" fill="#e04853"/>
<rect x="766.00" y="801.00" width="6.00" height="2.00" fill="#19a079"/>
<rect x="773.00" y="802.00" width="6.00" height="8.00" fill="#19a079"/>
<rect x="781.00" y="802.00" width="6.00" height="10.00" fill="#19a079"/>
<rect x="788.5" y="802.5" width="5" height="9.0" fill="none" stroke="#19a079" stroke-width="1"/>
<rect x="796.00" y="800.00" width="6.00" height="2.00" fill="#e04853"/>
<rect x="803.5" y="796.5" width="5" height="5.0" fill="none" stroke="#e04853" stroke-width="1"/>
<rect x="811.5" y="792.5" width="5" height="9.0" fill="none" stroke="#e04853" stroke-width="1"/>
<rect x="818.5" y="791.5" width="5" height="10.0" fill="none" stroke="#e04853" stroke-width="1"/>
<rect x="826.5" y="790.5" width="5" height="11.0" fill="none" stroke="#e04853" stroke-width="1"/>
<rect x="833.5" y="787.5" width="5" height="14.0" fill="none" stroke="#e04853" stroke-width="1"/>
<rect x="841.5" y="785.5" width="5" height="16.0" fill="none" stroke="#e04853" stroke-width="1"/>
<rect x="848.5" y="784.5" width="5" height="17.0" fill="none" stroke="#e04853" stroke-width="1"/>
<rect x="856.00" y="785.00" width="6.00" height="17.00" fill="#e04853"/>
<rect x="863.00" y="787.00" width="6.00" height="15.00" fill="#e04853"/>
<rect x="871.5" y="785.5" width="5" height="16.0" fill="none" stroke="#e04853" stroke-width="1"/>
<rect x="878.00" y="789.00" width="6.00" height="13.00" fill="#e04853"/>
<rect x="886.00" y="795.00" width="6.00" height="7.00" fill="#e04853"/>
<rect x="893.00" y="795.00" width="6.00" height="7.00" fill="#e04853"/>
<rect x="901.00" y="795.00" width="6.00" height="7.00" fill="#e04853"/>
<rect x="908.5" y="795.5" width="5" height="6.0" fill="none" stroke="#e04853" stroke-width="1"/>
<rect x="916.5" y="792.5" width="5" height="9.0" fill="none" stroke="#e04853" stroke-width="1"/>
<rect x="923.00" y="792.00" width="6.00" height="10.00" fill="#e04853"/>
<rect x="931.00" y="799.00" width="6.00" height="3.00" fill="#e04853"/>
<rect x="938.00" y="802.00" width="6.00" height="7.00" fill="#19a079"/>
<rect x="946.00" y="802.00" width="6.00" height="12.00" fill="#19a079"/>
<rect x="953.00" y="802.00" width="6.00" height="14.00" fill="#19a079"/>
<rect x="961.00" y="802.00" width="6.00" height="15.00" fill="#19a079"/>
<rect x="968.00" y="802.00" width="6.00" height="22.00" fill="#19a079"/>
<rect x="976.00" y="802.00" width="6.00" height="26.00" fill="#19a079"/>
<rect x="983.5" y="802.5" width="5" height="23.0" fill="none" stroke="#19a079" stroke-width="1"/>
<rect x="991.5" y="802.5" width="5" height="23.0" fill="none" stroke="#19a079" stroke-width="1"/>
<rect x="998.5" y="802.5" width="5" height="21.0" fill="none" stroke="#19a079" stroke-width="1"/>
<rect x="1006.5" y="802.5" width="5" height="19.0" fill="none" stroke="#19a079" stroke-width="1"/>
<rect x="1013.5" y="802.5" width="5" height="16.0" fill="none" stroke="#19a079" stroke-width="1"/>
<rect x="1021.5" y="802.5" width="5" height="11.0" fill="none" stroke="#19a079" stroke-width="1"/>
<rect x="1028.5" y="802.5" width="5" height="9.0" fill="none" stroke="#19a079" stroke-width="1"/>
<rect x="1036.5" y="802.5" width="5" height="7.0" fill="none" stroke="#19a079" stroke-width="1"/>
<rect x="1043.5" y="802.5" width="5" height="5.0" fill="none" stroke="#19a079" stroke-width="1"/>
<rect x="1051.5" y="802.5" width="5" height="4.0" fill="none" stroke="#19a079" stroke-width="1"/>
<rect x="1058.5" y="802.5" width="5" height="3.0" fill="none" stroke="#19a079" stroke-width="1"/>
<rect x="1066.00" y="801.00" width="6.00" height="2.00" fill="#19a079"/>
<rect x="1073.00" y="801.00" width="6.00" height="2.00" fill="#19a079"/>
<rect x="1081.00" y="802.00" width="6.00" height="3.00" fill="#19a079"/>
<rect x="1088.00" y="802.00" width="6.00" height="8.00" fill="#19a079"/>
<rect x="1096.00" y="802.00" width="6.00" height="10.00" fill="#19a079"/>
<polyline points="0.0,800.2 3.7,803.2 11.2,808.3 18.7,813.0 26.0,809.7 33.6,808.3 41.1,806.9 48.6,804.8 55.9,803.2 63.4,802.6 71.0,802.6 78.5,803.2 86.0,804.6 93.5,805.2 101.1,803.8 108.6,803.2 116.1,802.6 123.6,801.8 131.2,801.6 138.7,802.6 146.0,803.2 153.5,804.2 161.0,806.3 168.6,806.9 176.1,804.8 183.6,803.2 191.1,801.2 198.7,799.7 206.2,801.2 213.7,803.6 221.2,806.9 228.8,809.3 236.3,811.3 243.6,815.4 251.1,819.5 258.6,824.6 266.2,829.6 273.7,832.7 281.2,834.1 288.7,835.3 296.2,835.3 303.8,836.3 311.1,836.3 318.6,835.3 326.1,833.3 333.6,833.3 341.2,832.3 348.7,833.3 356.2,835.3 363.7,836.3 371.1,836.3 378.6,836.3 386.1,836.3 393.6,835.3 401.2,832.7 408.7,831.3 416.2,830.0 423.7,827.6 431.0,826.6 438.6,822.9 446.1,823.9 453.6,825.0 461.1,824.6 468.7,827.6 476.2,832.3 483.7,837.8 491.2,842.9 498.8,845.9 506.3,846.9 513.8,845.5 521.3,844.5 528.9,846.9 536.4,845.5 543.7,842.9 551.2,841.4 558.7,840.4 566.2,835.1 573.8,830.0 581.1,826.2 588.6,821.5 596.1,818.9 603.6,816.4 611.2,819.1 618.7,820.5 626.2,821.9 633.7,821.9 641.1,820.9 648.6,820.5 656.1,818.5 663.6,818.0 671.2,815.4 678.7,814.0 686.2,813.8 693.7,812.8 701.0,812.8 708.6,812.8 716.1,811.7 723.6,811.7 731.1,811.7 738.7,810.3 746.2,809.3 753.7,809.3 761.2,810.3 768.8,812.4 776.3,815.8 783.8,818.5 791.3,819.5 798.9,814.4 806.4,810.7 813.9,808.3 828.8,805.2 836.1,799.1 843.6,796.1 851.1,793.6 858.7,791.0 866.2,791.0 873.7,788.0 881.2,788.0 888.8,789.4 896.1,789.4 903.6,789.4 911.1,788.0 918.7,784.9 926.2,783.9 933.7,786.5 941.2,791.6 948.8,795.5 956.1,798.1 963.6,800.6 971.1,806.9 978.6,810.7 986.2,813.4 993.7,816.8 1001.2,818.0 1008.7,818.9 1016.1,819.1 1023.6,819.1 1031.1,819.1 1038.6,819.1 1046.2,818.0 1053.7,818.0 1061.2,818.0 1068.7,816.8 1076.0,816.8 1083.6,817.8 1091.1,820.5 1098.6,823.1" fill="none" stroke="#c9ccd1" stroke-width="1.1" stroke-linejoin="round" stroke-linecap="round"/>
<polyline points="0.0,784.5 8.1,790.0 18.7,795.5 26.0,798.5 33.6,800.8 41.1,802.2 48.6,802.8 55.9,802.8 71.0,802.8 86.0,803.6 101.1,804.2 116.1,803.8 123.6,802.8 138.7,802.6 153.5,803.2 168.6,804.2 176.1,804.2 191.1,802.8 206.2,802.2 221.2,803.2 228.8,804.2 236.3,805.6 243.6,807.3 251.1,809.9 258.6,812.4 266.2,815.4 273.7,818.9 281.2,822.5 288.7,824.6 303.8,829.0 318.6,831.3 333.6,831.7 348.7,831.7 363.7,833.3 378.6,834.3 393.6,835.3 408.7,834.1 423.7,831.7 431.0,831.7 438.6,829.6 446.1,828.2 453.6,828.0 461.1,827.0 468.7,828.0 476.2,828.0 483.7,830.7 491.2,832.7 498.8,835.7 506.3,838.2 513.8,839.4 521.3,840.8 528.9,841.8 536.4,841.8 543.7,841.8 551.2,841.4 558.7,841.4 573.8,838.8 588.6,833.3 603.6,828.0 611.2,825.2 626.2,824.6 641.1,823.1 648.6,822.9 663.6,820.1 678.7,818.9 693.7,816.4 708.6,815.4 716.1,814.0 731.1,813.8 746.2,811.7 761.2,811.7 768.8,811.7 776.3,811.9 783.8,812.8 791.3,813.8 798.9,814.4 806.4,814.0 813.9,812.8 828.8,811.3 836.1,807.7 843.6,804.8 851.1,802.2 858.7,800.2 866.2,799.1 873.7,796.7 881.2,795.5 888.8,794.1 896.1,793.0 903.6,791.6 911.1,791.0 918.7,790.0 926.2,789.0 933.7,788.0 941.2,789.0 948.8,790.0 956.1,791.0 963.6,793.4 971.1,796.1 978.6,798.7 986.2,801.2 993.7,804.6 1001.2,807.7 1008.7,808.9 1016.1,810.9 1023.6,812.8 1031.1,813.8 1038.6,815.4 1046.2,815.8 1053.7,816.4 1061.2,816.8 1068.7,816.8 1076.0,816.8 1083.6,816.8 1091.1,817.8 1098.6,819.1" fill="none" stroke="#eadf1e" stroke-width="1.25" stroke-linejoin="round" stroke-linecap="round"/>
<polyline points="0.0,282.4 18.7,320.0 26.0,313.9 33.6,307.8 41.1,295.6 48.6,283.4 55.9,270.2 63.4,269.7 71.0,270.6 78.5,272.6 86.0,277.3 93.5,281.3 101.1,284.0 108.6,285.0 116.1,282.8 123.6,278.3 131.2,275.6 138.7,277.3 146.0,277.7 153.5,279.9 161.0,284.4 168.6,288.9 176.1,285.4 183.6,281.3 191.1,277.3 198.7,269.7 206.2,269.7 213.7,274.2 221.2,283.4 228.8,295.6 236.3,305.7 243.7,311.4 251.2,326.6 258.7,342.9 266.2,359.1 273.8,371.3 281.1,379.5 288.6,383.9 296.1,387.2 303.6,384.6 311.2,383.5 318.7,382.5 326.2,382.5 333.7,382.5 341.1,381.5 348.6,387.6 356.1,397.8 363.6,407.3 371.2,414.0 378.7,421.2 386.2,424.6 393.7,422.2 401.0,419.7 408.6,417.5 416.1,416.1 423.6,414.0 431.1,412.4 438.7,409.0 446.2,413.0 453.7,416.9 461.2,419.8 468.7,431.2 476.2,450.5 483.8,468.8 491.3,489.1 498.8,508.0 506.1,515.2 513.6,516.2 521.2,515.2 528.7,517.6 536.2,515.2 543.7,515.6 551.3,517.6 558.8,520.2 566.1,507.4 573.6,498.3 581.2,490.2 588.7,481.0 596.2,469.8 603.7,472.9 611.2,479.0 618.8,490.2 626.3,501.3 633.6,508.9 641.1,513.9 648.7,512.5 656.2,507.4 663.7,504.4 671.2,502.4 678.8,499.9 686.3,498.3 693.8,498.3 701.2,500.4 708.7,503.9 716.3,504.3 723.6,505.5 731.1,506.3 738.6,504.3 746.2,501.4 753.7,500.8 761.2,505.9 768.7,510.4 776.3,521.2 783.6,531.3 791.1,540.5 798.6,532.9 806.1,525.2 813.7,513.0 821.2,500.4 828.7,489.0 836.2,482.5 843.8,477.0 851.1,471.3 858.6,466.7 866.1,461.8 873.7,457.1 881.2,457.5 888.7,460.2 896.2,460.2 903.7,458.1 911.1,460.2 918.6,451.6 926.1,443.9 933.6,444.9 941.2,453.0 948.7,464.8 956.1,476.6 963.6,489.8 971.1,503.0 978.7,511.2 986.2,519.3 993.7,527.4 1001.2,532.5 1008.6,531.5 1016.1,530.1 1023.6,528.9 1031.1,528.9 1038.7,527.8 1046.2,526.4 1053.7,528.0 1061.2,528.9 1068.5,526.8 1076.1,527.8 1083.6,533.5 1091.1,541.7 1099.0,550.4" fill="none" stroke="#58c41e" stroke-width="1.4" stroke-linejoin="round" stroke-linecap="round"/>
<polyline points="0.0,261.0 12.2,260.4 24.4,257.5 36.6,256.1 48.8,256.9 61.0,258.4 71.2,260.0 85.4,263.4 97.6,266.5 109.8,269.1 122.0,271.8 134.2,274.2 146.4,276.7 158.6,279.3 170.8,281.3 183.0,282.4 195.2,283.4 207.4,284.0 219.6,283.8 227.7,283.4 235.9,282.8 244.0,283.8 254.2,287.0 264.3,292.5 258.3,290.0 280.7,301.2 303.0,312.0 325.4,320.5 341.7,328.6 362.0,342.5 386.4,356.1 402.7,367.3 423.0,380.1 443.3,391.1 461.6,400.8 475.9,409.0 498.2,423.2 492.7,420.0 506.9,428.1 521.2,435.3 535.4,444.4 547.6,451.5 557.8,458.6 572.0,463.3 588.3,466.2 600.5,468.8 612.7,473.9 624.9,480.0 637.1,485.1 649.3,489.7 661.5,495.6 673.7,499.3 685.9,502.4 698.1,503.8 700.0,503.9 716.3,502.4 732.5,501.8 748.8,500.8 765.1,500.8 781.3,502.4 793.5,505.5 805.7,506.5 817.9,507.5 828.7,509.4 842.3,504.9 854.5,502.4 866.7,500.4 878.9,496.8 891.1,494.7 903.3,492.3 915.5,488.2 927.7,484.6 935.9,483.5 950.1,483.9 950.0,483.7 963.6,482.3 978.5,484.7 993.7,486.4 1009.0,483.3 1019.1,484.1 1031.3,486.4 1045.6,488.4 1059.8,491.9 1072.0,495.3 1084.2,500.0 1092.3,504.1 1099.0,507.7" fill="none" stroke="#bc280b" stroke-width="1.4" stroke-linejoin="round" stroke-linecap="round"/>
<rect x="460.6" y="455.9" width="845.2" height="90.6" fill="none" stroke="#ffff00" stroke-width="3.2"/>
<line x1="1123.40" y1="545.70" x2="1173.36" y2="481.69" stroke="#ffff00" stroke-width="3.0" stroke-linecap="round"/>
<polygon points="1179.2,474.2 1176.1,486.3 1168.2,480.2" fill="#ffff00"/>
<line x1="1123.40" y1="549.80" x2="1152.26" y2="594.71" stroke="#ffff00" stroke-width="3.0" stroke-linecap="round"/>
<polygon points="1157.4,602.7 1147.0,595.7 1155.4,590.3" fill="#ffff00"/>
<line x1="1099.90" y1="577.30" x2="1116.38" y2="557.15" stroke="#ffff00" stroke-width="3.0" stroke-linecap="round"/>
<polygon points="1122.4,549.8 1119.0,561.9 1111.2,555.5" fill="#ffff00"/>
<text x="1029.5" y="587.8" font-size="14.9" fill="#c8cbd0">38166</text>
<path d="M1077.5 585.3h8.5m-3.2 -3.2l3.2 3.2l-3.2 3.2" fill="none" stroke="#c8cbd0" stroke-width="1.2"/>
<rect x="1307.00" y="558.00" width="70.00" height="25.00" fill="#d13f4c"/>
<rect x="1375.50" y="558.00" width="1.50" height="25.00" fill="#b23843"/>
<rect x="1307.00" y="571.00" width="7.50" height="1.00" fill="#ffffff"/>
<text x="1319.71" y="576.0" font-size="14.9" fill="#ffffff">38509.3</text>
<rect x="1307.00" y="710.00" width="70.00" height="20.00" fill="#d4820a"/>
<rect x="1375.50" y="710.00" width="1.50" height="20.00" fill="#b06c0a"/>
<rect x="1307.00" y="722.00" width="7.50" height="2.00" fill="#fff3dc"/>
<text x="1328.8" y="727.1" font-size="14.9" fill="#ffffff">85.1k</text>
<text x="-3.3" y="189.0" font-size="14.9" fill="#e6e8eb">16:00</text>
<text x="40.4" y="189.0" font-size="14.9" fill="#e6e8eb">開:</text>
<text x="58.91" y="189.0" font-size="14.9" fill="#e04853">38445.5</text>
<text x="120.6" y="189.0" font-size="14.9" fill="#e6e8eb">高:</text>
<text x="139.11" y="189.0" font-size="14.9" fill="#e04853">38512.8</text>
<text x="201.7" y="189.0" font-size="14.9" fill="#e6e8eb">低:</text>
<text x="220.21" y="189.0" font-size="14.9" fill="#e04853">38375.0</text>
<text x="282.6" y="189.0" font-size="14.9" fill="#e6e8eb">收:</text>
<text x="301.11" y="189.0" font-size="14.9" fill="#e04853">38509.3</text>
<text x="363.1" y="189.0" font-size="14.9" fill="#e6e8eb">漲幅:</text>
<text x="396.51" y="189.0" font-size="14.9" fill="#e04853">0.16%(62.9)</text>
<text x="483.7" y="189.0" font-size="14.9" fill="#e6e8eb">振幅:</text>
<text x="517.11" y="189.0" font-size="14.9" fill="#e04853">0.36%</text>
<text x="-2.2" y="212.1" font-size="14.9" fill="#58c41e">39070.8</text>
<text x="59.6" y="212.1" font-size="14.9" fill="#bc280b">MA(30):40194.1</text>
<text x="-9.8" y="623.2" font-size="14.7" fill="#f0f1f3">VOLUME:85,072.0000</text>
<text x="142.0" y="623.2" font-size="14.7" fill="#5c6068"><tspan font-size="15">预估成交量</tspan>:2,848,922.7907</text>
<text x="330.0" y="623.2" font-size="14.7" fill="#d2d5da">MA(5):1,459,696.4000</text>
<text x="485.6" y="623.2" font-size="14.7" fill="#eadf1e">MA(30):1,315,946.4667</text>
<polygon points="11,738 20,738 15.5,743.5" fill="#e0e2e6"/>
<text x="30.8" y="746.2" font-size="14.9" fill="#c8cbd0">DIF:-456.7</text>
<text x="106.0" y="746.2" font-size="14.9" fill="#eadf1e">DEA:-361.1</text>
<text x="187.5" y="746.2" font-size="14.9" fill="#19a079">MACD:-191.1</text></svg></body></html>
